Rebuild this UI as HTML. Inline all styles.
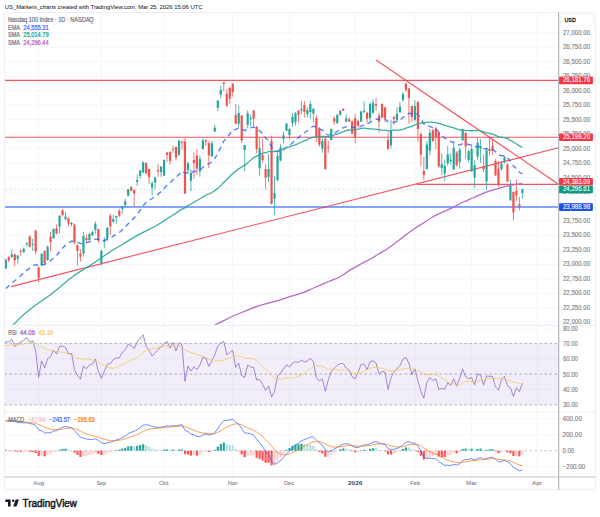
<!DOCTYPE html>
<html><head><meta charset="utf-8"><style>
html,body{margin:0;padding:0;background:#fff;width:600px;height:517px;overflow:hidden}
svg{display:block}
</style></head><body>
<svg width="600" height="517" viewBox="0 0 600 517">
<line x1="4.5" y1="322.2" x2="558.5" y2="322.2" stroke="#f5f6fb" stroke-width="1"/>
<line x1="4.5" y1="307.8" x2="558.5" y2="307.8" stroke="#f5f6fb" stroke-width="1"/>
<line x1="4.5" y1="293.3" x2="558.5" y2="293.3" stroke="#f5f6fb" stroke-width="1"/>
<line x1="4.5" y1="278.8" x2="558.5" y2="278.8" stroke="#f5f6fb" stroke-width="1"/>
<line x1="4.5" y1="264.4" x2="558.5" y2="264.4" stroke="#f5f6fb" stroke-width="1"/>
<line x1="4.5" y1="249.9" x2="558.5" y2="249.9" stroke="#f5f6fb" stroke-width="1"/>
<line x1="4.5" y1="235.4" x2="558.5" y2="235.4" stroke="#f5f6fb" stroke-width="1"/>
<line x1="4.5" y1="220.9" x2="558.5" y2="220.9" stroke="#f5f6fb" stroke-width="1"/>
<line x1="4.5" y1="206.4" x2="558.5" y2="206.4" stroke="#f5f6fb" stroke-width="1"/>
<line x1="4.5" y1="192.0" x2="558.5" y2="192.0" stroke="#f5f6fb" stroke-width="1"/>
<line x1="4.5" y1="177.5" x2="558.5" y2="177.5" stroke="#f5f6fb" stroke-width="1"/>
<line x1="4.5" y1="163.0" x2="558.5" y2="163.0" stroke="#f5f6fb" stroke-width="1"/>
<line x1="4.5" y1="148.6" x2="558.5" y2="148.6" stroke="#f5f6fb" stroke-width="1"/>
<line x1="4.5" y1="134.1" x2="558.5" y2="134.1" stroke="#f5f6fb" stroke-width="1"/>
<line x1="4.5" y1="119.6" x2="558.5" y2="119.6" stroke="#f5f6fb" stroke-width="1"/>
<line x1="4.5" y1="105.1" x2="558.5" y2="105.1" stroke="#f5f6fb" stroke-width="1"/>
<line x1="4.5" y1="90.7" x2="558.5" y2="90.7" stroke="#f5f6fb" stroke-width="1"/>
<line x1="4.5" y1="76.2" x2="558.5" y2="76.2" stroke="#f5f6fb" stroke-width="1"/>
<line x1="4.5" y1="61.7" x2="558.5" y2="61.7" stroke="#f5f6fb" stroke-width="1"/>
<line x1="4.5" y1="47.2" x2="558.5" y2="47.2" stroke="#f5f6fb" stroke-width="1"/>
<line x1="4.5" y1="32.8" x2="558.5" y2="32.8" stroke="#f5f6fb" stroke-width="1"/>
<line x1="4.5" y1="328.0" x2="558.5" y2="328.0" stroke="#f5f6fb" stroke-width="1"/>
<line x1="4.5" y1="358.8" x2="558.5" y2="358.8" stroke="#f5f6fb" stroke-width="1"/>
<line x1="4.5" y1="389.5" x2="558.5" y2="389.5" stroke="#f5f6fb" stroke-width="1"/>
<line x1="4.5" y1="418.9" x2="558.5" y2="418.9" stroke="#f5f6fb" stroke-width="1"/>
<line x1="4.5" y1="434.8" x2="558.5" y2="434.8" stroke="#f5f6fb" stroke-width="1"/>
<line x1="4.5" y1="466.6" x2="558.5" y2="466.6" stroke="#f5f6fb" stroke-width="1"/>
<line x1="38.6" y1="12.5" x2="38.6" y2="477" stroke="#f5f6fb" stroke-width="1"/>
<line x1="101.4" y1="12.5" x2="101.4" y2="477" stroke="#f5f6fb" stroke-width="1"/>
<line x1="164.1" y1="12.5" x2="164.1" y2="477" stroke="#f5f6fb" stroke-width="1"/>
<line x1="232.7" y1="12.5" x2="232.7" y2="477" stroke="#f5f6fb" stroke-width="1"/>
<line x1="289.5" y1="12.5" x2="289.5" y2="477" stroke="#f5f6fb" stroke-width="1"/>
<line x1="355.2" y1="12.5" x2="355.2" y2="477" stroke="#f5f6fb" stroke-width="1"/>
<line x1="414.9" y1="12.5" x2="414.9" y2="477" stroke="#f5f6fb" stroke-width="1"/>
<line x1="471.6" y1="12.5" x2="471.6" y2="477" stroke="#f5f6fb" stroke-width="1"/>
<line x1="537.3" y1="12.5" x2="537.3" y2="477" stroke="#f5f6fb" stroke-width="1"/>
<clipPath id="cm"><rect x="4.5" y="12.5" width="554" height="312.5"/></clipPath>
<clipPath id="cr"><rect x="4.5" y="325.5" width="554" height="87"/></clipPath>
<clipPath id="cd"><rect x="4.5" y="412.5" width="554" height="64.5"/></clipPath>
<g clip-path="url(#cm)">
<line x1="4.5" y1="80.35" x2="558.5" y2="80.35" stroke="#f23645" stroke-width="1.15" opacity="0.85"/>
<line x1="4.5" y1="137.2" x2="558.5" y2="137.2" stroke="#f23645" stroke-width="1.15" opacity="0.85"/>
<line x1="416.7" y1="184.3" x2="558.5" y2="184.3" stroke="#f23645" stroke-width="1.15" opacity="0.85"/>
<line x1="4.5" y1="207.1" x2="558.5" y2="207.1" stroke="#2962ff" stroke-width="1.5" opacity="0.75"/>
<line x1="4.5" y1="189.3" x2="558.5" y2="189.3" stroke="#26a69a" stroke-width="0.8" stroke-dasharray="2.5,2" opacity="0.3"/>
<line x1="11" y1="286.6" x2="558.5" y2="147.8" stroke="#f23645" stroke-width="1.15" opacity="0.85"/>
<line x1="376" y1="59.9" x2="558.5" y2="184.3" stroke="#f23645" stroke-width="1.15" opacity="0.85"/>
<line x1="5.80" y1="258.6" x2="5.80" y2="269.2" stroke="#26a69a" stroke-width="0.8"/>
<rect x="4.70" y="259.7" width="2.2" height="8.80" fill="#26a69a"/>
<line x1="8.79" y1="256.3" x2="8.79" y2="262.4" stroke="#ef5350" stroke-width="0.8"/>
<rect x="7.69" y="257.0" width="2.2" height="3.40" fill="#ef5350"/>
<line x1="11.78" y1="249.5" x2="11.78" y2="257.6" stroke="#26a69a" stroke-width="0.8"/>
<rect x="10.68" y="254.3" width="2.2" height="2.70" fill="#26a69a"/>
<line x1="14.76" y1="253.6" x2="14.76" y2="266.4" stroke="#ef5350" stroke-width="0.8"/>
<rect x="13.66" y="254.3" width="2.2" height="6.10" fill="#ef5350"/>
<line x1="17.75" y1="254.9" x2="17.75" y2="263.7" stroke="#26a69a" stroke-width="0.8"/>
<rect x="16.65" y="255.6" width="2.2" height="3.00" fill="#26a69a"/>
<line x1="20.73" y1="249.5" x2="20.73" y2="255.6" stroke="#ef5350" stroke-width="0.8"/>
<rect x="19.63" y="250.9" width="2.2" height="0.90" fill="#ef5350"/>
<line x1="23.72" y1="247.5" x2="23.72" y2="252.9" stroke="#26a69a" stroke-width="0.8"/>
<rect x="22.62" y="248.8" width="2.2" height="3.40" fill="#26a69a"/>
<line x1="26.71" y1="242.0" x2="26.71" y2="246.8" stroke="#26a69a" stroke-width="0.8"/>
<rect x="25.61" y="243.4" width="2.2" height="1.10" fill="#26a69a"/>
<line x1="29.69" y1="235.0" x2="29.69" y2="247.5" stroke="#ef5350" stroke-width="0.8"/>
<rect x="28.59" y="236.7" width="2.2" height="10.10" fill="#ef5350"/>
<line x1="32.68" y1="238.7" x2="32.68" y2="250.9" stroke="#26a69a" stroke-width="0.8"/>
<rect x="31.58" y="244.1" width="2.2" height="0.80" fill="#26a69a"/>
<line x1="35.66" y1="229.8" x2="35.66" y2="254.5" stroke="#ef5350" stroke-width="0.8"/>
<rect x="34.56" y="230.5" width="2.2" height="20.90" fill="#ef5350"/>
<line x1="38.65" y1="266.1" x2="38.65" y2="282.4" stroke="#ef5350" stroke-width="0.8"/>
<rect x="37.55" y="267.7" width="2.2" height="10.10" fill="#ef5350"/>
<line x1="41.64" y1="253.0" x2="41.64" y2="266.0" stroke="#26a69a" stroke-width="0.8"/>
<rect x="40.54" y="253.8" width="2.2" height="11.60" fill="#26a69a"/>
<line x1="44.62" y1="250.0" x2="44.62" y2="263.8" stroke="#ef5350" stroke-width="0.8"/>
<rect x="43.52" y="251.1" width="2.2" height="11.90" fill="#ef5350"/>
<line x1="47.61" y1="245.6" x2="47.61" y2="260.7" stroke="#26a69a" stroke-width="0.8"/>
<rect x="46.51" y="246.5" width="2.2" height="13.50" fill="#26a69a"/>
<line x1="50.59" y1="232.0" x2="50.59" y2="251.4" stroke="#ef5350" stroke-width="0.8"/>
<rect x="49.49" y="236.7" width="2.2" height="5.50" fill="#ef5350"/>
<line x1="53.58" y1="228.5" x2="53.58" y2="238.8" stroke="#26a69a" stroke-width="0.8"/>
<rect x="52.48" y="229.0" width="2.2" height="9.30" fill="#26a69a"/>
<line x1="56.57" y1="224.4" x2="56.57" y2="234.4" stroke="#ef5350" stroke-width="0.8"/>
<rect x="55.47" y="228.2" width="2.2" height="5.40" fill="#ef5350"/>
<line x1="59.55" y1="215.0" x2="59.55" y2="233.6" stroke="#26a69a" stroke-width="0.8"/>
<rect x="58.45" y="215.8" width="2.2" height="10.90" fill="#26a69a"/>
<line x1="62.54" y1="208.9" x2="62.54" y2="216.6" stroke="#ef5350" stroke-width="0.8"/>
<rect x="61.44" y="210.4" width="2.2" height="4.60" fill="#ef5350"/>
<line x1="65.52" y1="212.0" x2="65.52" y2="220.5" stroke="#26a69a" stroke-width="0.8"/>
<rect x="64.42" y="216.6" width="2.2" height="2.60" fill="#26a69a"/>
<line x1="68.51" y1="217.4" x2="68.51" y2="226.7" stroke="#ef5350" stroke-width="0.8"/>
<rect x="67.41" y="218.2" width="2.2" height="5.40" fill="#ef5350"/>
<line x1="71.50" y1="222.0" x2="71.50" y2="226.3" stroke="#26a69a" stroke-width="0.8"/>
<rect x="70.40" y="222.8" width="2.2" height="1.50" fill="#26a69a"/>
<line x1="74.48" y1="223.8" x2="74.48" y2="244.3" stroke="#ef5350" stroke-width="0.8"/>
<rect x="73.38" y="224.6" width="2.2" height="18.10" fill="#ef5350"/>
<line x1="77.47" y1="244.3" x2="77.47" y2="265.7" stroke="#ef5350" stroke-width="0.8"/>
<rect x="76.37" y="245.2" width="2.2" height="5.80" fill="#ef5350"/>
<line x1="80.45" y1="249.3" x2="80.45" y2="261.6" stroke="#ef5350" stroke-width="0.8"/>
<rect x="79.35" y="253.4" width="2.2" height="3.30" fill="#ef5350"/>
<line x1="83.44" y1="232.0" x2="83.44" y2="256.7" stroke="#26a69a" stroke-width="0.8"/>
<rect x="82.34" y="236.0" width="2.2" height="17.40" fill="#26a69a"/>
<line x1="86.43" y1="234.5" x2="86.43" y2="242.7" stroke="#ef5350" stroke-width="0.8"/>
<rect x="85.33" y="238.0" width="2.2" height="2.00" fill="#ef5350"/>
<line x1="89.41" y1="232.8" x2="89.41" y2="241.0" stroke="#26a69a" stroke-width="0.8"/>
<rect x="88.31" y="234.0" width="2.2" height="6.00" fill="#26a69a"/>
<line x1="92.40" y1="231.0" x2="92.40" y2="236.0" stroke="#26a69a" stroke-width="0.8"/>
<rect x="91.30" y="232.0" width="2.2" height="3.30" fill="#26a69a"/>
<line x1="95.38" y1="221.7" x2="95.38" y2="233.8" stroke="#26a69a" stroke-width="0.8"/>
<rect x="94.28" y="223.7" width="2.2" height="6.10" fill="#26a69a"/>
<line x1="98.37" y1="228.7" x2="98.37" y2="243.3" stroke="#ef5350" stroke-width="0.8"/>
<rect x="97.27" y="229.0" width="2.2" height="11.60" fill="#ef5350"/>
<line x1="101.36" y1="249.4" x2="101.36" y2="265.7" stroke="#26a69a" stroke-width="0.8"/>
<rect x="100.26" y="251.0" width="2.2" height="12.30" fill="#26a69a"/>
<line x1="104.34" y1="237.2" x2="104.34" y2="248.0" stroke="#26a69a" stroke-width="0.8"/>
<rect x="103.24" y="240.0" width="2.2" height="2.00" fill="#26a69a"/>
<line x1="107.33" y1="227.0" x2="107.33" y2="241.0" stroke="#26a69a" stroke-width="0.8"/>
<rect x="106.23" y="227.8" width="2.2" height="10.80" fill="#26a69a"/>
<line x1="110.31" y1="214.0" x2="110.31" y2="235.2" stroke="#ef5350" stroke-width="0.8"/>
<rect x="109.21" y="215.6" width="2.2" height="10.80" fill="#ef5350"/>
<line x1="113.30" y1="215.0" x2="113.30" y2="223.0" stroke="#26a69a" stroke-width="0.8"/>
<rect x="112.20" y="219.0" width="2.2" height="2.70" fill="#26a69a"/>
<line x1="116.29" y1="215.6" x2="116.29" y2="223.7" stroke="#26a69a" stroke-width="0.8"/>
<rect x="115.19" y="216.0" width="2.2" height="1.60" fill="#26a69a"/>
<line x1="119.27" y1="208.8" x2="119.27" y2="217.0" stroke="#ef5350" stroke-width="0.8"/>
<rect x="118.17" y="210.8" width="2.2" height="4.80" fill="#ef5350"/>
<line x1="122.26" y1="206.0" x2="122.26" y2="213.5" stroke="#26a69a" stroke-width="0.8"/>
<rect x="121.16" y="206.3" width="2.2" height="2.70" fill="#26a69a"/>
<line x1="125.24" y1="199.0" x2="125.24" y2="207.0" stroke="#26a69a" stroke-width="0.8"/>
<rect x="124.14" y="201.2" width="2.2" height="3.80" fill="#26a69a"/>
<line x1="128.23" y1="188.7" x2="128.23" y2="196.2" stroke="#26a69a" stroke-width="0.8"/>
<rect x="127.13" y="189.4" width="2.2" height="6.40" fill="#26a69a"/>
<line x1="131.22" y1="186.0" x2="131.22" y2="191.4" stroke="#ef5350" stroke-width="0.8"/>
<rect x="130.12" y="187.1" width="2.2" height="3.70" fill="#ef5350"/>
<line x1="134.20" y1="189.5" x2="134.20" y2="206.3" stroke="#ef5350" stroke-width="0.8"/>
<rect x="133.10" y="190.0" width="2.2" height="3.50" fill="#ef5350"/>
<line x1="137.19" y1="174.5" x2="137.19" y2="186.0" stroke="#26a69a" stroke-width="0.8"/>
<rect x="136.09" y="180.0" width="2.2" height="2.00" fill="#26a69a"/>
<line x1="140.17" y1="169.8" x2="140.17" y2="178.6" stroke="#26a69a" stroke-width="0.8"/>
<rect x="139.07" y="170.5" width="2.2" height="5.40" fill="#26a69a"/>
<line x1="143.16" y1="161.4" x2="143.16" y2="173.2" stroke="#26a69a" stroke-width="0.8"/>
<rect x="142.06" y="162.3" width="2.2" height="10.20" fill="#26a69a"/>
<line x1="146.15" y1="162.3" x2="146.15" y2="174.5" stroke="#ef5350" stroke-width="0.8"/>
<rect x="145.05" y="163.0" width="2.2" height="10.20" fill="#ef5350"/>
<line x1="149.13" y1="168.5" x2="149.13" y2="184.0" stroke="#ef5350" stroke-width="0.8"/>
<rect x="148.03" y="169.0" width="2.2" height="8.20" fill="#ef5350"/>
<line x1="152.12" y1="180.6" x2="152.12" y2="195.5" stroke="#26a69a" stroke-width="0.8"/>
<rect x="151.02" y="183.3" width="2.2" height="4.40" fill="#26a69a"/>
<line x1="155.10" y1="176.6" x2="155.10" y2="189.4" stroke="#26a69a" stroke-width="0.8"/>
<rect x="154.00" y="177.6" width="2.2" height="5.00" fill="#26a69a"/>
<line x1="158.09" y1="163.7" x2="158.09" y2="176.6" stroke="#ef5350" stroke-width="0.8"/>
<rect x="156.99" y="170.0" width="2.2" height="1.40" fill="#ef5350"/>
<line x1="161.08" y1="166.0" x2="161.08" y2="176.9" stroke="#26a69a" stroke-width="0.8"/>
<rect x="159.98" y="166.7" width="2.2" height="5.40" fill="#26a69a"/>
<line x1="164.06" y1="159.5" x2="164.06" y2="176.0" stroke="#26a69a" stroke-width="0.8"/>
<rect x="162.96" y="160.0" width="2.2" height="15.50" fill="#26a69a"/>
<line x1="167.05" y1="151.8" x2="167.05" y2="162.0" stroke="#ef5350" stroke-width="0.8"/>
<rect x="165.95" y="152.5" width="2.2" height="2.50" fill="#ef5350"/>
<line x1="170.03" y1="151.1" x2="170.03" y2="164.7" stroke="#ef5350" stroke-width="0.8"/>
<rect x="168.93" y="152.0" width="2.2" height="8.90" fill="#ef5350"/>
<line x1="173.02" y1="145.7" x2="173.02" y2="153.2" stroke="#ef5350" stroke-width="0.8"/>
<rect x="171.92" y="148.7" width="2.2" height="0.80" fill="#ef5350"/>
<line x1="176.01" y1="146.4" x2="176.01" y2="160.6" stroke="#ef5350" stroke-width="0.8"/>
<rect x="174.91" y="147.0" width="2.2" height="10.60" fill="#ef5350"/>
<line x1="178.99" y1="140.3" x2="178.99" y2="155.5" stroke="#26a69a" stroke-width="0.8"/>
<rect x="177.89" y="140.6" width="2.2" height="14.30" fill="#26a69a"/>
<line x1="181.98" y1="141.0" x2="181.98" y2="149.8" stroke="#ef5350" stroke-width="0.8"/>
<rect x="180.88" y="141.4" width="2.2" height="1.30" fill="#ef5350"/>
<line x1="184.96" y1="138.1" x2="184.96" y2="194.0" stroke="#ef5350" stroke-width="0.8"/>
<rect x="183.86" y="141.5" width="2.2" height="52.10" fill="#ef5350"/>
<line x1="187.95" y1="161.8" x2="187.95" y2="174.0" stroke="#26a69a" stroke-width="0.8"/>
<rect x="186.85" y="163.2" width="2.2" height="6.80" fill="#26a69a"/>
<line x1="190.94" y1="169.3" x2="190.94" y2="191.0" stroke="#26a69a" stroke-width="0.8"/>
<rect x="189.84" y="173.0" width="2.2" height="7.80" fill="#26a69a"/>
<line x1="193.92" y1="152.3" x2="193.92" y2="178.7" stroke="#ef5350" stroke-width="0.8"/>
<rect x="192.82" y="160.0" width="2.2" height="3.20" fill="#ef5350"/>
<line x1="196.91" y1="149.0" x2="196.91" y2="174.7" stroke="#ef5350" stroke-width="0.8"/>
<rect x="195.81" y="155.5" width="2.2" height="13.10" fill="#ef5350"/>
<line x1="199.89" y1="155.7" x2="199.89" y2="176.7" stroke="#26a69a" stroke-width="0.8"/>
<rect x="198.79" y="159.0" width="2.2" height="12.30" fill="#26a69a"/>
<line x1="202.88" y1="137.9" x2="202.88" y2="149.6" stroke="#26a69a" stroke-width="0.8"/>
<rect x="201.78" y="140.5" width="2.2" height="8.50" fill="#26a69a"/>
<line x1="205.87" y1="139.0" x2="205.87" y2="145.9" stroke="#ef5350" stroke-width="0.8"/>
<rect x="204.77" y="140.3" width="2.2" height="1.30" fill="#ef5350"/>
<line x1="208.85" y1="141.0" x2="208.85" y2="168.2" stroke="#ef5350" stroke-width="0.8"/>
<rect x="207.75" y="143.2" width="2.2" height="12.20" fill="#ef5350"/>
<line x1="211.84" y1="141.0" x2="211.84" y2="157.0" stroke="#26a69a" stroke-width="0.8"/>
<rect x="210.74" y="143.2" width="2.2" height="13.30" fill="#26a69a"/>
<line x1="214.82" y1="124.6" x2="214.82" y2="132.0" stroke="#26a69a" stroke-width="0.8"/>
<rect x="213.72" y="127.8" width="2.2" height="3.70" fill="#26a69a"/>
<line x1="217.81" y1="100.0" x2="217.81" y2="110.9" stroke="#26a69a" stroke-width="0.8"/>
<rect x="216.71" y="100.7" width="2.2" height="7.10" fill="#26a69a"/>
<line x1="220.80" y1="85.8" x2="220.80" y2="98.0" stroke="#26a69a" stroke-width="0.8"/>
<rect x="219.70" y="89.9" width="2.2" height="4.70" fill="#26a69a"/>
<line x1="223.78" y1="81.8" x2="223.78" y2="91.2" stroke="#ef5350" stroke-width="0.8"/>
<rect x="222.68" y="82.4" width="2.2" height="1.40" fill="#ef5350"/>
<line x1="226.77" y1="89.2" x2="226.77" y2="106.8" stroke="#ef5350" stroke-width="0.8"/>
<rect x="225.67" y="94.0" width="2.2" height="11.90" fill="#ef5350"/>
<line x1="229.75" y1="86.5" x2="229.75" y2="104.1" stroke="#ef5350" stroke-width="0.8"/>
<rect x="228.65" y="87.9" width="2.2" height="10.80" fill="#ef5350"/>
<line x1="232.74" y1="83.1" x2="232.74" y2="96.7" stroke="#ef5350" stroke-width="0.8"/>
<rect x="231.64" y="83.8" width="2.2" height="8.10" fill="#ef5350"/>
<line x1="235.73" y1="104.0" x2="235.73" y2="124.4" stroke="#ef5350" stroke-width="0.8"/>
<rect x="234.63" y="115.0" width="2.2" height="8.70" fill="#ef5350"/>
<line x1="238.71" y1="105.5" x2="238.71" y2="127.1" stroke="#26a69a" stroke-width="0.8"/>
<rect x="237.61" y="112.9" width="2.2" height="10.80" fill="#26a69a"/>
<line x1="241.70" y1="115.0" x2="241.70" y2="143.5" stroke="#ef5350" stroke-width="0.8"/>
<rect x="240.60" y="115.6" width="2.2" height="24.90" fill="#ef5350"/>
<line x1="244.68" y1="145.0" x2="244.68" y2="171.3" stroke="#26a69a" stroke-width="0.8"/>
<rect x="243.58" y="145.0" width="2.2" height="5.00" fill="#26a69a"/>
<line x1="247.67" y1="110.6" x2="247.67" y2="128.2" stroke="#26a69a" stroke-width="0.8"/>
<rect x="246.57" y="113.3" width="2.2" height="11.50" fill="#26a69a"/>
<line x1="250.66" y1="114.6" x2="250.66" y2="126.1" stroke="#26a69a" stroke-width="0.8"/>
<rect x="249.56" y="118.3" width="2.2" height="1.10" fill="#26a69a"/>
<line x1="253.64" y1="109.9" x2="253.64" y2="126.0" stroke="#ef5350" stroke-width="0.8"/>
<rect x="252.54" y="110.6" width="2.2" height="8.10" fill="#ef5350"/>
<line x1="256.63" y1="126.1" x2="256.63" y2="153.5" stroke="#ef5350" stroke-width="0.8"/>
<rect x="255.53" y="126.8" width="2.2" height="22.20" fill="#ef5350"/>
<line x1="259.61" y1="137.6" x2="259.61" y2="175.6" stroke="#26a69a" stroke-width="0.8"/>
<rect x="258.51" y="148.2" width="2.2" height="20.10" fill="#26a69a"/>
<line x1="262.60" y1="139.0" x2="262.60" y2="162.5" stroke="#ef5350" stroke-width="0.8"/>
<rect x="261.50" y="155.0" width="2.2" height="5.20" fill="#ef5350"/>
<line x1="265.59" y1="164.0" x2="265.59" y2="189.3" stroke="#ef5350" stroke-width="0.8"/>
<rect x="264.49" y="169.0" width="2.2" height="8.70" fill="#ef5350"/>
<line x1="268.57" y1="153.8" x2="268.57" y2="182.0" stroke="#26a69a" stroke-width="0.8"/>
<rect x="267.47" y="169.0" width="2.2" height="8.00" fill="#26a69a"/>
<line x1="271.56" y1="135.6" x2="271.56" y2="204.6" stroke="#ef5350" stroke-width="0.8"/>
<rect x="270.46" y="140.7" width="2.2" height="63.20" fill="#ef5350"/>
<line x1="274.54" y1="176.3" x2="274.54" y2="215.0" stroke="#26a69a" stroke-width="0.8"/>
<rect x="273.44" y="193.0" width="2.2" height="5.80" fill="#26a69a"/>
<line x1="277.53" y1="153.0" x2="277.53" y2="181.4" stroke="#26a69a" stroke-width="0.8"/>
<rect x="276.43" y="156.0" width="2.2" height="24.00" fill="#26a69a"/>
<line x1="280.52" y1="144.4" x2="280.52" y2="161.3" stroke="#26a69a" stroke-width="0.8"/>
<rect x="279.42" y="147.2" width="2.2" height="13.30" fill="#26a69a"/>
<line x1="283.50" y1="131.5" x2="283.50" y2="143.5" stroke="#26a69a" stroke-width="0.8"/>
<rect x="282.40" y="135.3" width="2.2" height="3.70" fill="#26a69a"/>
<line x1="286.49" y1="122.9" x2="286.49" y2="131.0" stroke="#26a69a" stroke-width="0.8"/>
<rect x="285.39" y="123.5" width="2.2" height="7.20" fill="#26a69a"/>
<line x1="289.47" y1="128.3" x2="289.47" y2="139.2" stroke="#26a69a" stroke-width="0.8"/>
<rect x="288.37" y="129.0" width="2.2" height="6.10" fill="#26a69a"/>
<line x1="292.46" y1="112.8" x2="292.46" y2="127.0" stroke="#26a69a" stroke-width="0.8"/>
<rect x="291.36" y="116.8" width="2.2" height="6.10" fill="#26a69a"/>
<line x1="295.45" y1="112.0" x2="295.45" y2="125.6" stroke="#26a69a" stroke-width="0.8"/>
<rect x="294.35" y="113.4" width="2.2" height="8.80" fill="#26a69a"/>
<line x1="298.43" y1="110.0" x2="298.43" y2="122.2" stroke="#ef5350" stroke-width="0.8"/>
<rect x="297.33" y="110.7" width="2.2" height="4.10" fill="#ef5350"/>
<line x1="301.42" y1="101.2" x2="301.42" y2="114.1" stroke="#26a69a" stroke-width="0.8"/>
<rect x="300.32" y="109.1" width="2.2" height="1.40" fill="#26a69a"/>
<line x1="304.40" y1="101.2" x2="304.40" y2="117.5" stroke="#ef5350" stroke-width="0.8"/>
<rect x="303.30" y="105.0" width="2.2" height="7.00" fill="#ef5350"/>
<line x1="307.39" y1="107.3" x2="307.39" y2="117.5" stroke="#26a69a" stroke-width="0.8"/>
<rect x="306.29" y="110.0" width="2.2" height="4.10" fill="#26a69a"/>
<line x1="310.38" y1="100.6" x2="310.38" y2="118.8" stroke="#26a69a" stroke-width="0.8"/>
<rect x="309.28" y="104.0" width="2.2" height="8.00" fill="#26a69a"/>
<line x1="313.36" y1="108.0" x2="313.36" y2="122.2" stroke="#26a69a" stroke-width="0.8"/>
<rect x="312.26" y="109.0" width="2.2" height="4.60" fill="#26a69a"/>
<line x1="316.35" y1="115.0" x2="316.35" y2="142.0" stroke="#ef5350" stroke-width="0.8"/>
<rect x="315.25" y="117.9" width="2.2" height="19.20" fill="#ef5350"/>
<line x1="319.33" y1="127.0" x2="319.33" y2="146.6" stroke="#ef5350" stroke-width="0.8"/>
<rect x="318.23" y="128.3" width="2.2" height="16.30" fill="#ef5350"/>
<line x1="322.32" y1="138.2" x2="322.32" y2="152.7" stroke="#26a69a" stroke-width="0.8"/>
<rect x="321.22" y="140.9" width="2.2" height="7.70" fill="#26a69a"/>
<line x1="325.31" y1="137.9" x2="325.31" y2="169.7" stroke="#ef5350" stroke-width="0.8"/>
<rect x="324.21" y="138.8" width="2.2" height="30.20" fill="#ef5350"/>
<line x1="328.29" y1="140.6" x2="328.29" y2="152.8" stroke="#ef5350" stroke-width="0.8"/>
<rect x="327.19" y="146.7" width="2.2" height="1.00" fill="#ef5350"/>
<line x1="331.28" y1="128.4" x2="331.28" y2="140.6" stroke="#26a69a" stroke-width="0.8"/>
<rect x="330.18" y="129.1" width="2.2" height="10.90" fill="#26a69a"/>
<line x1="334.26" y1="116.2" x2="334.26" y2="125.0" stroke="#ef5350" stroke-width="0.8"/>
<rect x="333.16" y="118.3" width="2.2" height="3.40" fill="#ef5350"/>
<line x1="337.25" y1="113.5" x2="337.25" y2="124.4" stroke="#26a69a" stroke-width="0.8"/>
<rect x="336.15" y="114.9" width="2.2" height="8.10" fill="#26a69a"/>
<line x1="340.24" y1="110.2" x2="340.24" y2="115.6" stroke="#26a69a" stroke-width="0.8"/>
<rect x="339.14" y="110.8" width="2.2" height="4.10" fill="#26a69a"/>
<line x1="343.22" y1="108.5" x2="343.22" y2="111.0" stroke="#ef5350" stroke-width="0.8"/>
<rect x="342.12" y="108.8" width="2.2" height="2.00" fill="#ef5350"/>
<line x1="346.21" y1="114.2" x2="346.21" y2="122.3" stroke="#26a69a" stroke-width="0.8"/>
<rect x="345.11" y="118.3" width="2.2" height="3.40" fill="#26a69a"/>
<line x1="349.19" y1="117.0" x2="349.19" y2="122.0" stroke="#ef5350" stroke-width="0.8"/>
<rect x="348.09" y="119.2" width="2.2" height="2.40" fill="#ef5350"/>
<line x1="352.18" y1="120.2" x2="352.18" y2="134.4" stroke="#ef5350" stroke-width="0.8"/>
<rect x="351.08" y="121.6" width="2.2" height="11.90" fill="#ef5350"/>
<line x1="355.17" y1="114.1" x2="355.17" y2="143.2" stroke="#ef5350" stroke-width="0.8"/>
<rect x="354.07" y="118.2" width="2.2" height="18.90" fill="#ef5350"/>
<line x1="358.15" y1="119.5" x2="358.15" y2="127.6" stroke="#ef5350" stroke-width="0.8"/>
<rect x="357.05" y="120.9" width="2.2" height="4.70" fill="#ef5350"/>
<line x1="361.14" y1="110.7" x2="361.14" y2="122.2" stroke="#26a69a" stroke-width="0.8"/>
<rect x="360.04" y="111.4" width="2.2" height="10.20" fill="#26a69a"/>
<line x1="364.12" y1="101.2" x2="364.12" y2="113.4" stroke="#26a69a" stroke-width="0.8"/>
<rect x="363.02" y="110.7" width="2.2" height="1.30" fill="#26a69a"/>
<line x1="367.11" y1="112.0" x2="367.11" y2="123.6" stroke="#ef5350" stroke-width="0.8"/>
<rect x="366.01" y="112.8" width="2.2" height="6.00" fill="#ef5350"/>
<line x1="370.10" y1="102.0" x2="370.10" y2="121.6" stroke="#26a69a" stroke-width="0.8"/>
<rect x="369.00" y="104.0" width="2.2" height="14.20" fill="#26a69a"/>
<line x1="373.08" y1="99.2" x2="373.08" y2="113.4" stroke="#26a69a" stroke-width="0.8"/>
<rect x="371.98" y="102.6" width="2.2" height="10.20" fill="#26a69a"/>
<line x1="376.07" y1="97.9" x2="376.07" y2="110.7" stroke="#ef5350" stroke-width="0.8"/>
<rect x="374.97" y="104.0" width="2.2" height="1.60" fill="#ef5350"/>
<line x1="379.05" y1="112.8" x2="379.05" y2="132.4" stroke="#ef5350" stroke-width="0.8"/>
<rect x="377.95" y="115.5" width="2.2" height="6.10" fill="#ef5350"/>
<line x1="382.04" y1="103.3" x2="382.04" y2="118.2" stroke="#ef5350" stroke-width="0.8"/>
<rect x="380.94" y="104.0" width="2.2" height="13.50" fill="#ef5350"/>
<line x1="385.03" y1="106.7" x2="385.03" y2="122.2" stroke="#ef5350" stroke-width="0.8"/>
<rect x="383.93" y="107.3" width="2.2" height="10.90" fill="#ef5350"/>
<line x1="388.01" y1="132.4" x2="388.01" y2="150.0" stroke="#ef5350" stroke-width="0.8"/>
<rect x="386.91" y="139.8" width="2.2" height="8.80" fill="#ef5350"/>
<line x1="391.00" y1="119.9" x2="391.00" y2="148.6" stroke="#26a69a" stroke-width="0.8"/>
<rect x="389.90" y="130.1" width="2.2" height="15.10" fill="#26a69a"/>
<line x1="393.98" y1="115.6" x2="393.98" y2="125.0" stroke="#ef5350" stroke-width="0.8"/>
<rect x="392.88" y="117.2" width="2.2" height="1.80" fill="#ef5350"/>
<line x1="396.97" y1="107.5" x2="396.97" y2="121.0" stroke="#26a69a" stroke-width="0.8"/>
<rect x="395.87" y="113.6" width="2.2" height="6.80" fill="#26a69a"/>
<line x1="399.96" y1="102.0" x2="399.96" y2="112.9" stroke="#26a69a" stroke-width="0.8"/>
<rect x="398.86" y="106.8" width="2.2" height="5.40" fill="#26a69a"/>
<line x1="402.94" y1="92.0" x2="402.94" y2="102.0" stroke="#26a69a" stroke-width="0.8"/>
<rect x="401.84" y="94.0" width="2.2" height="6.00" fill="#26a69a"/>
<line x1="405.93" y1="82.4" x2="405.93" y2="91.9" stroke="#ef5350" stroke-width="0.8"/>
<rect x="404.83" y="83.8" width="2.2" height="6.10" fill="#ef5350"/>
<line x1="408.91" y1="87.9" x2="408.91" y2="123.7" stroke="#ef5350" stroke-width="0.8"/>
<rect x="407.81" y="88.5" width="2.2" height="9.50" fill="#ef5350"/>
<line x1="411.90" y1="105.5" x2="411.90" y2="121.7" stroke="#ef5350" stroke-width="0.8"/>
<rect x="410.80" y="106.1" width="2.2" height="10.90" fill="#ef5350"/>
<line x1="414.89" y1="100.0" x2="414.89" y2="121.0" stroke="#26a69a" stroke-width="0.8"/>
<rect x="413.79" y="106.1" width="2.2" height="13.90" fill="#26a69a"/>
<line x1="417.87" y1="100.7" x2="417.87" y2="141.8" stroke="#ef5350" stroke-width="0.8"/>
<rect x="416.77" y="102.0" width="2.2" height="27.00" fill="#ef5350"/>
<line x1="420.86" y1="132.3" x2="420.86" y2="166.2" stroke="#ef5350" stroke-width="0.8"/>
<rect x="419.76" y="134.4" width="2.2" height="20.30" fill="#ef5350"/>
<line x1="423.84" y1="156.7" x2="423.84" y2="180.0" stroke="#ef5350" stroke-width="0.8"/>
<rect x="422.74" y="171.0" width="2.2" height="4.00" fill="#ef5350"/>
<line x1="426.83" y1="141.1" x2="426.83" y2="169.6" stroke="#26a69a" stroke-width="0.8"/>
<rect x="425.73" y="144.5" width="2.2" height="24.40" fill="#26a69a"/>
<line x1="429.82" y1="129.0" x2="429.82" y2="155.4" stroke="#26a69a" stroke-width="0.8"/>
<rect x="428.72" y="133.0" width="2.2" height="17.60" fill="#26a69a"/>
<line x1="432.80" y1="129.0" x2="432.80" y2="141.8" stroke="#ef5350" stroke-width="0.8"/>
<rect x="431.70" y="130.3" width="2.2" height="10.80" fill="#ef5350"/>
<line x1="435.79" y1="126.9" x2="435.79" y2="149.3" stroke="#ef5350" stroke-width="0.8"/>
<rect x="434.69" y="128.3" width="2.2" height="8.80" fill="#ef5350"/>
<line x1="438.77" y1="132.3" x2="438.77" y2="168.2" stroke="#ef5350" stroke-width="0.8"/>
<rect x="437.67" y="133.0" width="2.2" height="33.20" fill="#ef5350"/>
<line x1="441.76" y1="153.3" x2="441.76" y2="175.0" stroke="#26a69a" stroke-width="0.8"/>
<rect x="440.66" y="164.1" width="2.2" height="4.00" fill="#26a69a"/>
<line x1="444.75" y1="159.4" x2="444.75" y2="181.0" stroke="#26a69a" stroke-width="0.8"/>
<rect x="443.65" y="165.8" width="2.2" height="7.80" fill="#26a69a"/>
<line x1="447.73" y1="146.0" x2="447.73" y2="165.8" stroke="#26a69a" stroke-width="0.8"/>
<rect x="446.63" y="154.2" width="2.2" height="9.20" fill="#26a69a"/>
<line x1="450.72" y1="153.8" x2="450.72" y2="164.7" stroke="#26a69a" stroke-width="0.8"/>
<rect x="449.62" y="160.0" width="2.2" height="1.30" fill="#26a69a"/>
<line x1="453.70" y1="143.0" x2="453.70" y2="170.0" stroke="#26a69a" stroke-width="0.8"/>
<rect x="452.60" y="147.8" width="2.2" height="21.60" fill="#26a69a"/>
<line x1="456.69" y1="151.0" x2="456.69" y2="166.7" stroke="#ef5350" stroke-width="0.8"/>
<rect x="455.59" y="152.5" width="2.2" height="12.90" fill="#ef5350"/>
<line x1="459.68" y1="147.8" x2="459.68" y2="168.7" stroke="#26a69a" stroke-width="0.8"/>
<rect x="458.58" y="149.8" width="2.2" height="12.20" fill="#26a69a"/>
<line x1="462.66" y1="128.8" x2="462.66" y2="141.0" stroke="#26a69a" stroke-width="0.8"/>
<rect x="461.56" y="129.5" width="2.2" height="10.80" fill="#26a69a"/>
<line x1="465.65" y1="132.2" x2="465.65" y2="158.6" stroke="#ef5350" stroke-width="0.8"/>
<rect x="464.55" y="132.9" width="2.2" height="13.50" fill="#ef5350"/>
<line x1="468.63" y1="149.8" x2="468.63" y2="162.0" stroke="#26a69a" stroke-width="0.8"/>
<rect x="467.53" y="151.1" width="2.2" height="8.90" fill="#26a69a"/>
<line x1="471.62" y1="145.0" x2="471.62" y2="172.0" stroke="#26a69a" stroke-width="0.8"/>
<rect x="470.52" y="149.0" width="2.2" height="22.40" fill="#26a69a"/>
<line x1="474.61" y1="160.0" x2="474.61" y2="187.7" stroke="#26a69a" stroke-width="0.8"/>
<rect x="473.51" y="165.3" width="2.2" height="12.10" fill="#26a69a"/>
<line x1="477.59" y1="138.0" x2="477.59" y2="160.0" stroke="#26a69a" stroke-width="0.8"/>
<rect x="476.49" y="142.9" width="2.2" height="13.60" fill="#26a69a"/>
<line x1="480.58" y1="138.9" x2="480.58" y2="163.0" stroke="#26a69a" stroke-width="0.8"/>
<rect x="479.48" y="146.4" width="2.2" height="2.10" fill="#26a69a"/>
<line x1="483.56" y1="154.4" x2="483.56" y2="172.3" stroke="#ef5350" stroke-width="0.8"/>
<rect x="482.46" y="166.7" width="2.2" height="2.70" fill="#ef5350"/>
<line x1="486.55" y1="147.6" x2="486.55" y2="189.6" stroke="#26a69a" stroke-width="0.8"/>
<rect x="485.45" y="150.3" width="2.2" height="31.10" fill="#26a69a"/>
<line x1="489.54" y1="138.0" x2="489.54" y2="155.7" stroke="#ef5350" stroke-width="0.8"/>
<rect x="488.44" y="149.0" width="2.2" height="2.00" fill="#ef5350"/>
<line x1="492.52" y1="140.0" x2="492.52" y2="155.0" stroke="#ef5350" stroke-width="0.8"/>
<rect x="491.42" y="145.6" width="2.2" height="5.40" fill="#ef5350"/>
<line x1="495.51" y1="159.1" x2="495.51" y2="176.0" stroke="#ef5350" stroke-width="0.8"/>
<rect x="494.41" y="161.1" width="2.2" height="14.30" fill="#ef5350"/>
<line x1="498.49" y1="161.1" x2="498.49" y2="186.9" stroke="#ef5350" stroke-width="0.8"/>
<rect x="497.39" y="168.6" width="2.2" height="16.20" fill="#ef5350"/>
<line x1="501.48" y1="161.1" x2="501.48" y2="170.6" stroke="#26a69a" stroke-width="0.8"/>
<rect x="500.38" y="163.8" width="2.2" height="5.50" fill="#26a69a"/>
<line x1="504.47" y1="155.7" x2="504.47" y2="163.8" stroke="#26a69a" stroke-width="0.8"/>
<rect x="503.37" y="157.1" width="2.2" height="4.70" fill="#26a69a"/>
<line x1="507.45" y1="163.2" x2="507.45" y2="182.1" stroke="#ef5350" stroke-width="0.8"/>
<rect x="506.35" y="164.5" width="2.2" height="17.10" fill="#ef5350"/>
<line x1="510.44" y1="179.9" x2="510.44" y2="200.9" stroke="#26a69a" stroke-width="0.8"/>
<rect x="509.34" y="186.0" width="2.2" height="14.20" fill="#26a69a"/>
<line x1="513.42" y1="191.4" x2="513.42" y2="220.5" stroke="#ef5350" stroke-width="0.8"/>
<rect x="512.32" y="192.0" width="2.2" height="20.40" fill="#ef5350"/>
<line x1="516.41" y1="179.2" x2="516.41" y2="200.9" stroke="#ef5350" stroke-width="0.8"/>
<rect x="515.31" y="190.7" width="2.2" height="4.80" fill="#ef5350"/>
<line x1="519.40" y1="196.8" x2="519.40" y2="210.4" stroke="#ef5350" stroke-width="0.8"/>
<rect x="518.30" y="204.3" width="2.2" height="2.70" fill="#ef5350"/>
<line x1="522.38" y1="188.7" x2="522.38" y2="198.8" stroke="#26a69a" stroke-width="0.8"/>
<rect x="521.28" y="189.4" width="2.2" height="3.40" fill="#26a69a"/>
<polyline fill="none" stroke="#2962ff" stroke-width="1.4" stroke-dasharray="5,4" opacity="0.8" points="5.8,288.6 8.8,285.9 11.8,282.9 14.8,280.7 17.7,278.3 20.7,275.8 23.7,273.2 26.7,270.4 29.7,268.1 32.7,265.9 35.7,264.5 38.6,265.8 41.6,264.6 44.6,264.5 47.6,262.7 50.6,260.8 53.6,257.8 56.6,255.5 59.6,251.7 62.5,248.2 65.5,245.2 68.5,243.1 71.5,241.2 74.5,241.3 77.5,242.3 80.5,243.6 83.4,242.9 86.4,242.6 89.4,241.8 92.4,240.9 95.4,239.2 98.4,239.4 101.4,240.5 104.3,240.4 107.3,239.2 110.3,238.0 113.3,236.2 116.3,234.3 119.3,232.5 122.3,230.0 125.2,227.3 128.2,223.7 131.2,220.5 134.2,217.9 137.2,214.3 140.2,210.2 143.2,205.6 146.1,202.5 149.1,200.1 152.1,198.5 155.1,196.5 158.1,194.1 161.1,191.5 164.1,188.5 167.0,185.3 170.0,183.0 173.0,179.8 176.0,177.7 179.0,174.2 182.0,171.2 185.0,173.3 188.0,172.3 190.9,172.4 193.9,171.5 196.9,171.2 199.9,170.1 202.9,167.3 205.9,164.8 208.9,163.9 211.8,161.9 214.8,158.7 217.8,153.2 220.8,147.1 223.8,141.1 226.8,137.8 229.8,134.0 232.7,130.0 235.7,129.4 238.7,127.8 241.7,129.1 244.7,130.6 247.7,128.9 250.7,127.9 253.6,127.0 256.6,129.1 259.6,130.9 262.6,133.7 265.6,137.9 268.6,140.9 271.6,146.9 274.5,151.3 277.5,151.7 280.5,151.3 283.5,149.8 286.5,147.3 289.5,145.5 292.5,142.8 295.4,140.0 298.4,137.6 301.4,134.9 304.4,132.7 307.4,130.5 310.4,128.0 313.4,126.2 316.3,127.2 319.3,128.9 322.3,130.0 325.3,133.7 328.3,135.1 331.3,134.5 334.3,133.3 337.2,131.5 340.2,129.6 343.2,127.8 346.2,126.9 349.2,126.4 352.2,127.0 355.2,128.0 358.2,127.8 361.1,126.2 364.1,124.7 367.1,124.2 370.1,122.3 373.1,120.4 376.1,119.0 379.1,119.2 382.0,119.1 385.0,119.0 388.0,121.8 391.0,122.6 394.0,122.2 397.0,121.4 400.0,120.0 402.9,117.6 405.9,114.9 408.9,113.3 411.9,113.7 414.9,112.9 417.9,114.5 420.9,118.3 423.8,123.7 426.8,125.7 429.8,126.4 432.8,127.8 435.8,128.7 438.8,132.2 441.8,135.3 444.7,138.2 447.7,139.7 450.7,141.6 453.7,142.2 456.7,144.4 459.7,144.9 462.7,143.5 465.6,143.8 468.6,144.5 471.6,144.9 474.6,146.8 477.6,146.5 480.6,146.5 483.6,148.6 486.6,148.8 489.5,149.0 492.5,149.2 495.5,151.7 498.5,154.8 501.5,155.7 504.5,155.8 507.5,158.3 510.4,160.9 513.4,165.8 516.4,168.7 519.4,172.3 522.4,173.9"/>
<path fill="none" stroke="#26a69a" stroke-width="1.3" opacity="0.9" d="M10.50,327.50 C10.87,327.13 11.78,326.18 12.70,325.30 C13.62,324.42 14.35,323.82 16.00,322.20 C17.65,320.58 19.42,318.38 22.60,315.60 C25.78,312.82 30.92,308.65 35.10,305.50 C39.28,302.35 43.50,299.83 47.70,296.70 C51.90,293.57 56.12,290.05 60.30,286.70 C64.48,283.35 68.62,279.67 72.80,276.60 C76.98,273.53 81.22,271.02 85.40,268.30 C89.58,265.58 93.72,263.10 97.90,260.30 C102.08,257.50 106.30,254.22 110.50,251.50 C114.70,248.78 118.92,246.52 123.10,244.00 C127.28,241.48 130.27,239.35 135.60,236.40 C140.93,233.45 151.36,228.27 155.10,226.29 C158.85,224.31 157.09,225.10 158.09,224.51 C159.09,223.92 160.08,223.38 161.08,222.76 C162.07,222.13 163.07,221.42 164.06,220.75 C165.06,220.08 166.05,219.38 167.05,218.74 C168.04,218.10 169.04,217.55 170.03,216.92 C171.03,216.29 172.02,215.55 173.02,214.93 C174.02,214.32 175.01,213.86 176.01,213.22 C177.00,212.58 178.00,211.79 178.99,211.09 C179.99,210.40 180.98,209.60 181.98,209.07 C182.97,208.54 183.97,208.48 184.96,207.91 C185.96,207.34 186.95,206.27 187.95,205.62 C188.95,204.97 189.94,204.60 190.94,204.00 C191.93,203.40 192.93,202.60 193.92,202.01 C194.92,201.41 195.91,200.98 196.91,200.45 C197.90,199.91 198.90,199.36 199.89,198.78 C200.89,198.21 201.88,197.62 202.88,197.01 C203.88,196.41 204.87,195.68 205.87,195.17 C206.86,194.67 207.86,194.41 208.85,193.97 C209.85,193.53 210.84,193.07 211.84,192.53 C212.83,191.99 213.83,191.46 214.82,190.75 C215.82,190.05 216.81,189.15 217.81,188.30 C218.81,187.44 219.80,186.61 220.80,185.64 C221.79,184.67 222.79,183.47 223.78,182.46 C224.78,181.45 225.77,180.57 226.77,179.56 C227.76,178.55 228.76,177.41 229.75,176.40 C230.75,175.39 231.74,174.38 232.74,173.52 C233.74,172.65 234.73,171.98 235.73,171.19 C236.72,170.40 237.72,169.48 238.71,168.77 C239.71,168.06 240.70,167.51 241.70,166.94 C242.69,166.37 243.69,166.05 244.68,165.36 C245.68,164.68 246.67,163.68 247.67,162.82 C248.67,161.95 249.66,161.01 250.66,160.16 C251.65,159.32 252.65,158.41 253.64,157.74 C254.64,157.07 255.63,156.69 256.63,156.16 C257.62,155.64 258.62,155.05 259.61,154.60 C260.61,154.14 261.60,153.75 262.60,153.42 C263.60,153.10 264.59,152.94 265.59,152.66 C266.58,152.37 267.58,151.89 268.57,151.72 C269.57,151.56 270.56,151.71 271.56,151.68 C272.55,151.64 273.55,151.65 274.54,151.51 C275.54,151.37 276.53,151.10 277.53,150.84 C278.53,150.59 279.52,150.31 280.52,149.97 C281.51,149.63 282.51,149.19 283.50,148.81 C284.50,148.43 285.49,148.00 286.49,147.68 C287.48,147.35 288.48,147.14 289.47,146.85 C290.47,146.56 291.46,146.29 292.46,145.94 C293.46,145.59 294.45,145.15 295.45,144.74 C296.44,144.33 297.44,143.95 298.43,143.49 C299.43,143.04 300.42,142.48 301.42,142.01 C302.41,141.54 303.41,141.12 304.40,140.70 C305.40,140.27 306.39,139.88 307.39,139.47 C308.39,139.06 309.38,138.59 310.38,138.22 C311.37,137.84 312.37,137.43 313.36,137.20 C314.36,136.97 315.35,136.95 316.35,136.84 C317.34,136.72 318.34,136.59 319.33,136.51 C320.33,136.43 321.32,136.33 322.32,136.34 C323.32,136.35 324.31,136.51 325.31,136.57 C326.30,136.63 327.30,136.73 328.29,136.71 C329.29,136.69 330.28,136.72 331.28,136.44 C332.27,136.15 333.27,135.40 334.26,135.00 C335.26,134.60 336.25,134.40 337.25,134.03 C338.25,133.67 339.24,133.17 340.24,132.79 C341.23,132.41 342.23,132.08 343.22,131.74 C344.22,131.40 345.21,131.03 346.21,130.74 C347.20,130.44 348.20,130.14 349.19,129.99 C350.19,129.84 351.18,129.89 352.18,129.85 C353.18,129.81 354.17,129.87 355.17,129.76 C356.16,129.64 357.16,129.37 358.15,129.16 C359.15,128.96 360.14,128.69 361.14,128.53 C362.13,128.36 363.13,128.18 364.12,128.18 C365.12,128.19 366.11,128.44 367.11,128.55 C368.11,128.65 369.10,128.72 370.10,128.83 C371.09,128.94 372.09,129.14 373.08,129.20 C374.08,129.27 375.07,129.12 376.07,129.20 C377.06,129.27 378.06,129.49 379.05,129.66 C380.05,129.82 381.04,130.10 382.04,130.17 C383.04,130.24 384.03,129.96 385.03,130.06 C386.02,130.16 387.02,130.69 388.01,130.77 C389.01,130.86 390.00,130.69 391.00,130.56 C391.99,130.44 392.99,130.13 393.98,130.04 C394.98,129.96 395.97,130.09 396.97,130.05 C397.97,130.01 398.96,129.94 399.96,129.82 C400.95,129.70 401.95,129.61 402.94,129.33 C403.94,129.05 404.93,128.51 405.93,128.14 C406.92,127.78 407.92,127.45 408.91,127.14 C409.91,126.83 410.90,126.66 411.90,126.28 C412.90,125.89 413.89,125.22 414.89,124.84 C415.88,124.47 416.88,124.34 417.87,124.04 C418.87,123.75 419.86,123.28 420.86,123.06 C421.85,122.84 422.85,122.80 423.84,122.70 C424.84,122.60 425.83,122.56 426.83,122.47 C427.83,122.38 428.82,122.21 429.82,122.19 C430.81,122.16 431.81,122.24 432.80,122.30 C433.80,122.37 434.79,122.40 435.79,122.57 C436.78,122.74 437.78,123.04 438.77,123.32 C439.77,123.60 440.76,123.93 441.76,124.26 C442.76,124.60 443.75,125.01 444.75,125.31 C445.74,125.62 446.74,125.80 447.73,126.10 C448.73,126.40 449.72,126.83 450.72,127.12 C451.71,127.41 452.71,127.53 453.70,127.83 C454.70,128.14 455.69,128.60 456.69,128.94 C457.69,129.28 458.68,129.64 459.68,129.86 C460.67,130.08 461.67,130.17 462.66,130.27 C463.66,130.37 464.65,130.40 465.65,130.45 C466.64,130.51 467.64,130.54 468.63,130.58 C469.63,130.63 470.62,130.73 471.62,130.75 C472.62,130.76 473.61,130.70 474.61,130.67 C475.60,130.64 476.60,130.53 477.59,130.58 C478.59,130.62 479.58,130.71 480.58,130.92 C481.57,131.14 482.57,131.60 483.56,131.88 C484.56,132.15 485.55,132.33 486.55,132.58 C487.55,132.84 488.54,133.12 489.54,133.39 C490.53,133.66 491.53,133.87 492.52,134.19 C493.52,134.52 494.51,134.93 495.51,135.33 C496.50,135.74 497.50,136.29 498.49,136.60 C499.49,136.91 500.48,137.04 501.48,137.20 C502.48,137.37 503.47,137.35 504.47,137.60 C505.46,137.86 506.46,138.29 507.45,138.72 C508.45,139.16 509.44,139.63 510.44,140.22 C511.43,140.80 512.43,141.66 513.42,142.25 C514.42,142.84 515.41,143.19 516.41,143.78 C517.41,144.38 518.40,145.21 519.40,145.84 C520.39,146.48 521.88,147.29 522.38,147.58"/>
<path fill="none" stroke="#ba68c8" stroke-width="1.3" d="M212.00,326.50 C212.38,326.30 212.35,326.27 214.30,325.30 C216.25,324.33 220.58,322.25 223.70,320.70 C226.82,319.15 229.50,317.57 233.00,316.00 C236.50,314.43 240.82,312.85 244.70,311.30 C248.58,309.75 252.42,308.05 256.30,306.70 C260.18,305.35 264.10,304.30 268.00,303.20 C271.90,302.10 275.82,301.27 279.70,300.10 C283.58,298.93 287.42,297.43 291.30,296.20 C295.18,294.97 299.10,294.15 303.00,292.70 C306.90,291.25 310.42,289.37 314.70,287.50 C318.98,285.63 324.48,283.30 328.70,281.50 C332.92,279.70 336.32,278.68 340.00,276.70 C343.68,274.72 347.18,271.80 350.80,269.60 C354.42,267.40 358.50,265.23 361.70,263.50 C364.90,261.77 367.23,260.75 370.00,259.20 C372.77,257.65 375.52,255.87 378.30,254.20 C381.08,252.53 384.47,250.60 386.70,249.20 C388.93,247.80 389.77,247.20 391.70,245.80 C393.63,244.40 395.80,242.73 398.30,240.80 C400.80,238.87 403.92,236.28 406.70,234.20 C409.48,232.12 412.23,230.17 415.00,228.30 C417.77,226.43 420.52,224.80 423.30,223.00 C426.08,221.20 428.92,219.12 431.70,217.50 C434.48,215.88 437.23,214.60 440.00,213.30 C442.77,212.00 445.80,210.87 448.30,209.70 C450.80,208.53 452.50,207.58 455.00,206.30 C457.50,205.02 460.80,203.18 463.30,202.00 C465.80,200.82 467.83,200.15 470.00,199.20 C472.17,198.25 473.92,197.35 476.30,196.30 C478.68,195.25 481.63,193.92 484.30,192.90 C486.97,191.88 489.63,191.03 492.30,190.20 C494.97,189.37 497.63,188.62 500.30,187.90 C502.97,187.18 505.63,186.48 508.30,185.90 C510.97,185.32 513.97,184.82 516.30,184.40 C518.63,183.98 521.30,183.57 522.30,183.40"/>
</g>
<g clip-path="url(#cr)">
<rect x="4.5" y="343.4" width="554" height="61.5" fill="#7e57c2" opacity="0.1"/>
<line x1="4.5" y1="343.4" x2="558.5" y2="343.4" stroke="#787b86" stroke-width="0.8" stroke-dasharray="2.5,2.5" opacity="0.7"/>
<line x1="4.5" y1="374.1" x2="558.5" y2="374.1" stroke="#787b86" stroke-width="0.8" stroke-dasharray="2.5,2.5" opacity="0.7"/>
<line x1="4.5" y1="404.9" x2="558.5" y2="404.9" stroke="#787b86" stroke-width="0.8" stroke-dasharray="2.5,2.5" opacity="0.7"/>
<clipPath id="ob"><rect x="4.5" y="325.5" width="554" height="17.90"/></clipPath>
<polygon clip-path="url(#ob)" fill="#26a69a" opacity="0.08" points="4.9,341.8 8.8,342.0 11.8,339.0 14.8,346.6 17.7,343.9 20.7,341.9 23.7,340.3 26.7,337.5 29.7,342.3 32.7,340.7 35.7,350.9 38.6,377.4 41.6,360.9 44.6,367.9 47.6,358.7 50.6,356.5 53.6,350.3 56.6,354.1 59.6,346.3 62.5,346.0 65.5,347.5 68.5,353.9 71.5,353.4 74.5,369.8 77.5,375.5 80.5,379.2 83.4,366.0 86.4,368.8 89.4,365.2 92.4,364.0 95.4,359.1 98.4,371.8 101.4,378.4 104.3,371.4 107.3,364.4 110.3,363.6 113.3,359.5 116.3,357.9 119.3,357.7 122.3,352.5 125.2,349.8 128.2,344.2 131.2,345.7 134.2,348.5 137.2,342.0 140.2,338.0 143.2,334.9 146.1,346.3 149.1,350.2 152.1,356.0 155.1,352.8 158.1,349.5 161.1,347.0 164.1,343.7 167.0,341.3 170.0,348.0 173.0,342.3 176.0,350.9 179.0,342.7 182.0,344.9 185.0,381.2 188.0,366.0 190.9,371.0 193.9,366.6 196.9,369.5 199.9,365.1 202.9,357.4 205.9,358.1 208.9,366.3 211.8,361.0 214.8,354.9 217.8,346.0 220.8,343.0 223.8,341.4 226.8,354.9 229.8,352.5 232.7,350.3 235.7,367.4 238.7,363.3 241.7,375.5 244.7,377.3 247.7,365.0 250.7,367.2 253.6,367.4 256.6,380.0 259.6,379.6 262.6,384.2 265.6,390.4 268.6,386.0 271.6,397.0 274.5,391.6 277.5,376.2 280.5,373.0 283.5,368.8 286.5,364.8 289.5,367.1 292.5,362.9 295.4,361.7 298.4,362.4 301.4,360.2 304.4,361.8 307.4,361.0 310.4,358.4 313.4,361.7 316.3,377.5 319.3,381.0 322.3,378.9 325.3,391.2 328.3,379.8 331.3,371.3 334.3,368.1 337.2,365.3 340.2,363.6 343.2,363.6 346.2,368.0 349.2,370.0 352.2,376.8 355.2,378.8 358.2,371.9 361.1,364.4 364.1,364.1 367.1,369.5 370.1,361.6 373.1,360.9 376.1,363.1 379.1,374.0 382.0,371.5 385.0,372.0 388.0,389.4 391.0,377.8 394.0,371.7 397.0,368.9 400.0,365.4 402.9,359.2 405.9,357.3 408.9,363.0 411.9,374.7 414.9,368.8 417.9,380.8 420.9,391.4 423.8,398.1 426.8,382.5 429.8,377.5 432.8,380.6 435.8,378.8 438.8,389.5 441.8,388.5 444.7,389.1 447.7,382.9 450.7,385.3 453.7,378.8 456.7,386.2 459.7,378.3 462.7,369.2 465.6,376.7 468.6,378.6 471.6,377.6 474.6,384.6 477.6,373.8 480.6,375.4 483.6,384.9 486.6,376.0 489.5,376.3 492.5,376.3 495.5,386.7 498.5,390.2 501.5,379.4 504.5,376.3 507.5,386.1 510.4,387.7 513.4,396.4 516.4,387.8 519.4,391.6 522.4,383.1 522.4,343.4 4.9,343.4"/>
<polyline fill="none" stroke="#7e57c2" stroke-width="0.95" opacity="0.72" points="4.9,341.8 8.8,342.0 11.8,339.0 14.8,346.6 17.7,343.9 20.7,341.9 23.7,340.3 26.7,337.5 29.7,342.3 32.7,340.7 35.7,350.9 38.6,377.4 41.6,360.9 44.6,367.9 47.6,358.7 50.6,356.5 53.6,350.3 56.6,354.1 59.6,346.3 62.5,346.0 65.5,347.5 68.5,353.9 71.5,353.4 74.5,369.8 77.5,375.5 80.5,379.2 83.4,366.0 86.4,368.8 89.4,365.2 92.4,364.0 95.4,359.1 98.4,371.8 101.4,378.4 104.3,371.4 107.3,364.4 110.3,363.6 113.3,359.5 116.3,357.9 119.3,357.7 122.3,352.5 125.2,349.8 128.2,344.2 131.2,345.7 134.2,348.5 137.2,342.0 140.2,338.0 143.2,334.9 146.1,346.3 149.1,350.2 152.1,356.0 155.1,352.8 158.1,349.5 161.1,347.0 164.1,343.7 167.0,341.3 170.0,348.0 173.0,342.3 176.0,350.9 179.0,342.7 182.0,344.9 185.0,381.2 188.0,366.0 190.9,371.0 193.9,366.6 196.9,369.5 199.9,365.1 202.9,357.4 205.9,358.1 208.9,366.3 211.8,361.0 214.8,354.9 217.8,346.0 220.8,343.0 223.8,341.4 226.8,354.9 229.8,352.5 232.7,350.3 235.7,367.4 238.7,363.3 241.7,375.5 244.7,377.3 247.7,365.0 250.7,367.2 253.6,367.4 256.6,380.0 259.6,379.6 262.6,384.2 265.6,390.4 268.6,386.0 271.6,397.0 274.5,391.6 277.5,376.2 280.5,373.0 283.5,368.8 286.5,364.8 289.5,367.1 292.5,362.9 295.4,361.7 298.4,362.4 301.4,360.2 304.4,361.8 307.4,361.0 310.4,358.4 313.4,361.7 316.3,377.5 319.3,381.0 322.3,378.9 325.3,391.2 328.3,379.8 331.3,371.3 334.3,368.1 337.2,365.3 340.2,363.6 343.2,363.6 346.2,368.0 349.2,370.0 352.2,376.8 355.2,378.8 358.2,371.9 361.1,364.4 364.1,364.1 367.1,369.5 370.1,361.6 373.1,360.9 376.1,363.1 379.1,374.0 382.0,371.5 385.0,372.0 388.0,389.4 391.0,377.8 394.0,371.7 397.0,368.9 400.0,365.4 402.9,359.2 405.9,357.3 408.9,363.0 411.9,374.7 414.9,368.8 417.9,380.8 420.9,391.4 423.8,398.1 426.8,382.5 429.8,377.5 432.8,380.6 435.8,378.8 438.8,389.5 441.8,388.5 444.7,389.1 447.7,382.9 450.7,385.3 453.7,378.8 456.7,386.2 459.7,378.3 462.7,369.2 465.6,376.7 468.6,378.6 471.6,377.6 474.6,384.6 477.6,373.8 480.6,375.4 483.6,384.9 486.6,376.0 489.5,376.3 492.5,376.3 495.5,386.7 498.5,390.2 501.5,379.4 504.5,376.3 507.5,386.1 510.4,387.7 513.4,396.4 516.4,387.8 519.4,391.6 522.4,383.1"/>
<polyline fill="none" stroke="#f2c94c" stroke-width="0.95" opacity="0.75" points="4.9,345.6 8.8,345.3 11.8,344.8 14.8,344.9 17.7,344.8 20.7,344.5 23.7,344.2 26.7,343.6 29.7,343.3 32.7,343.0 35.7,343.4 38.6,345.6 41.6,346.7 44.6,348.3 47.6,349.3 50.6,350.3 53.6,351.1 56.6,351.6 59.6,351.8 62.5,352.1 65.5,352.6 68.5,353.8 71.5,354.6 74.5,356.7 77.5,358.4 80.5,358.6 83.4,358.9 86.4,359.0 89.4,359.5 92.4,360.0 95.4,360.6 98.4,361.9 101.4,364.2 104.3,366.0 107.3,367.2 110.3,367.9 113.3,368.3 116.3,367.5 119.3,366.2 122.3,364.3 125.2,363.1 128.2,361.4 131.2,360.0 134.2,358.9 137.2,357.7 140.2,355.3 143.2,352.2 146.1,350.4 149.1,349.3 152.1,348.8 155.1,348.3 158.1,347.7 161.1,347.0 164.1,346.3 167.0,345.7 170.0,346.0 173.0,345.7 176.0,345.9 179.0,346.0 182.0,346.5 185.0,349.8 188.0,351.2 190.9,352.7 193.9,353.4 196.9,354.6 199.9,355.7 202.9,356.5 205.9,357.5 208.9,359.3 211.8,360.2 214.8,361.1 217.8,360.8 220.8,360.8 223.8,360.5 226.8,358.7 229.8,357.7 232.7,356.2 235.7,356.3 238.7,355.8 241.7,356.6 244.7,358.0 247.7,358.5 250.7,358.6 253.6,359.0 256.6,360.8 259.6,363.2 262.6,366.1 265.6,369.6 268.6,371.9 271.6,375.0 274.5,378.0 277.5,378.6 280.5,379.3 283.5,378.8 286.5,377.9 289.5,378.1 292.5,377.8 295.4,377.4 298.4,376.1 301.4,374.7 304.4,373.1 307.4,371.0 310.4,369.1 313.4,366.5 316.3,365.5 319.3,365.9 322.3,366.3 325.3,367.9 328.3,369.0 331.3,369.3 334.3,369.6 337.2,369.9 340.2,370.0 343.2,370.2 346.2,370.7 349.2,371.3 352.2,372.6 355.2,373.9 358.2,373.5 361.1,372.3 364.1,371.2 367.1,369.7 370.1,368.4 373.1,367.6 376.1,367.3 379.1,367.9 382.0,368.5 385.0,369.1 388.0,370.6 391.0,371.1 394.0,370.8 397.0,370.1 400.0,369.6 402.9,369.2 405.9,368.7 408.9,368.3 411.9,369.2 414.9,369.8 417.9,371.0 420.9,372.3 423.8,374.2 426.8,374.9 429.8,374.1 432.8,374.3 435.8,374.8 438.8,376.3 441.8,377.9 444.7,380.0 447.7,381.9 450.7,383.5 453.7,383.7 456.7,385.0 459.7,384.8 462.7,383.2 465.6,381.7 468.6,381.4 471.6,381.4 474.6,381.7 477.6,381.4 480.6,380.3 483.6,380.1 486.6,379.2 489.5,378.7 492.5,378.1 495.5,378.6 498.5,378.9 501.5,379.0 504.5,379.5 507.5,380.2 510.4,380.8 513.4,382.2 516.4,382.4 519.4,383.7 522.4,384.2"/>
</g>
<g clip-path="url(#cd)">
<line x1="4.5" y1="450.7" x2="558.5" y2="450.7" stroke="#787b86" stroke-width="0.8" stroke-dasharray="2.5,2.5" opacity="0.5"/>
<rect x="4.70" y="450.56" width="2.2" height="0.50" fill="#26a69a"/>
<rect x="7.69" y="450.70" width="2.2" height="0.50" fill="#ff5252"/>
<rect x="10.68" y="450.70" width="2.2" height="0.50" fill="#ffcdd2"/>
<rect x="13.66" y="450.70" width="2.2" height="0.75" fill="#ff5252"/>
<rect x="16.65" y="450.70" width="2.2" height="1.02" fill="#ff5252"/>
<rect x="19.63" y="450.70" width="2.2" height="1.07" fill="#ff5252"/>
<rect x="22.62" y="450.70" width="2.2" height="1.05" fill="#ffcdd2"/>
<rect x="25.61" y="450.70" width="2.2" height="0.77" fill="#ffcdd2"/>
<rect x="28.59" y="450.70" width="2.2" height="1.12" fill="#ff5252"/>
<rect x="31.58" y="450.70" width="2.2" height="1.30" fill="#ff5252"/>
<rect x="34.56" y="450.70" width="2.2" height="2.24" fill="#ff5252"/>
<rect x="37.55" y="450.70" width="2.2" height="5.27" fill="#ff5252"/>
<rect x="40.54" y="450.70" width="2.2" height="5.03" fill="#ffcdd2"/>
<rect x="43.52" y="450.70" width="2.2" height="5.65" fill="#ff5252"/>
<rect x="46.51" y="450.70" width="2.2" height="4.51" fill="#ffcdd2"/>
<rect x="49.49" y="450.70" width="2.2" height="3.39" fill="#ffcdd2"/>
<rect x="52.48" y="450.70" width="2.2" height="1.55" fill="#ffcdd2"/>
<rect x="55.47" y="450.70" width="2.2" height="0.91" fill="#ffcdd2"/>
<rect x="58.45" y="449.79" width="2.2" height="0.91" fill="#26a69a"/>
<rect x="61.44" y="448.82" width="2.2" height="1.88" fill="#26a69a"/>
<rect x="64.42" y="448.65" width="2.2" height="2.05" fill="#26a69a"/>
<rect x="67.41" y="449.47" width="2.2" height="1.23" fill="#b2dfdb"/>
<rect x="70.40" y="450.17" width="2.2" height="0.53" fill="#b2dfdb"/>
<rect x="73.38" y="450.70" width="2.2" height="1.90" fill="#ff5252"/>
<rect x="76.37" y="450.70" width="2.2" height="4.24" fill="#ff5252"/>
<rect x="79.35" y="450.70" width="2.2" height="6.18" fill="#ff5252"/>
<rect x="82.34" y="450.70" width="2.2" height="5.44" fill="#ffcdd2"/>
<rect x="85.33" y="450.70" width="2.2" height="5.20" fill="#ffcdd2"/>
<rect x="88.31" y="450.70" width="2.2" height="4.41" fill="#ffcdd2"/>
<rect x="91.30" y="450.70" width="2.2" height="3.65" fill="#ffcdd2"/>
<rect x="94.28" y="450.70" width="2.2" height="2.39" fill="#ffcdd2"/>
<rect x="97.27" y="450.70" width="2.2" height="3.08" fill="#ff5252"/>
<rect x="100.26" y="450.70" width="2.2" height="4.39" fill="#ff5252"/>
<rect x="103.24" y="450.70" width="2.2" height="4.13" fill="#ffcdd2"/>
<rect x="106.23" y="450.70" width="2.2" height="2.78" fill="#ffcdd2"/>
<rect x="109.21" y="450.70" width="2.2" height="1.77" fill="#ffcdd2"/>
<rect x="112.20" y="450.70" width="2.2" height="0.50" fill="#ffcdd2"/>
<rect x="115.19" y="450.18" width="2.2" height="0.52" fill="#26a69a"/>
<rect x="118.17" y="449.64" width="2.2" height="1.06" fill="#26a69a"/>
<rect x="121.16" y="448.63" width="2.2" height="2.07" fill="#26a69a"/>
<rect x="124.14" y="447.77" width="2.2" height="2.93" fill="#26a69a"/>
<rect x="127.13" y="446.45" width="2.2" height="4.25" fill="#26a69a"/>
<rect x="130.12" y="446.08" width="2.2" height="4.62" fill="#26a69a"/>
<rect x="133.10" y="446.46" width="2.2" height="4.24" fill="#b2dfdb"/>
<rect x="136.09" y="445.87" width="2.2" height="4.83" fill="#26a69a"/>
<rect x="139.07" y="445.07" width="2.2" height="5.63" fill="#26a69a"/>
<rect x="142.06" y="444.31" width="2.2" height="6.39" fill="#26a69a"/>
<rect x="145.05" y="445.30" width="2.2" height="5.40" fill="#b2dfdb"/>
<rect x="148.03" y="446.73" width="2.2" height="3.97" fill="#b2dfdb"/>
<rect x="151.02" y="448.57" width="2.2" height="2.13" fill="#b2dfdb"/>
<rect x="154.00" y="449.54" width="2.2" height="1.16" fill="#b2dfdb"/>
<rect x="156.99" y="449.87" width="2.2" height="0.83" fill="#b2dfdb"/>
<rect x="159.98" y="449.91" width="2.2" height="0.79" fill="#b2dfdb"/>
<rect x="162.96" y="449.60" width="2.2" height="1.10" fill="#26a69a"/>
<rect x="165.95" y="449.23" width="2.2" height="1.47" fill="#26a69a"/>
<rect x="168.93" y="449.81" width="2.2" height="0.89" fill="#b2dfdb"/>
<rect x="171.92" y="449.44" width="2.2" height="1.26" fill="#26a69a"/>
<rect x="174.91" y="450.20" width="2.2" height="0.50" fill="#b2dfdb"/>
<rect x="177.89" y="449.43" width="2.2" height="1.27" fill="#26a69a"/>
<rect x="180.88" y="449.42" width="2.2" height="1.28" fill="#26a69a"/>
<rect x="183.86" y="450.70" width="2.2" height="3.47" fill="#ff5252"/>
<rect x="186.85" y="450.70" width="2.2" height="3.81" fill="#ff5252"/>
<rect x="189.84" y="450.70" width="2.2" height="4.90" fill="#ff5252"/>
<rect x="192.82" y="450.70" width="2.2" height="4.66" fill="#ffcdd2"/>
<rect x="195.81" y="450.70" width="2.2" height="4.93" fill="#ff5252"/>
<rect x="198.79" y="450.70" width="2.2" height="4.17" fill="#ffcdd2"/>
<rect x="201.78" y="450.70" width="2.2" height="2.02" fill="#ffcdd2"/>
<rect x="204.77" y="450.70" width="2.2" height="0.83" fill="#ffcdd2"/>
<rect x="207.75" y="450.70" width="2.2" height="1.40" fill="#ff5252"/>
<rect x="210.74" y="450.70" width="2.2" height="0.78" fill="#ffcdd2"/>
<rect x="213.72" y="449.85" width="2.2" height="0.85" fill="#26a69a"/>
<rect x="216.71" y="446.66" width="2.2" height="4.04" fill="#26a69a"/>
<rect x="219.70" y="444.09" width="2.2" height="6.61" fill="#26a69a"/>
<rect x="222.68" y="442.47" width="2.2" height="8.23" fill="#26a69a"/>
<rect x="225.67" y="444.03" width="2.2" height="6.67" fill="#b2dfdb"/>
<rect x="228.65" y="444.93" width="2.2" height="5.77" fill="#b2dfdb"/>
<rect x="231.64" y="445.44" width="2.2" height="5.26" fill="#b2dfdb"/>
<rect x="234.63" y="449.05" width="2.2" height="1.65" fill="#b2dfdb"/>
<rect x="237.61" y="450.70" width="2.2" height="0.50" fill="#ff5252"/>
<rect x="240.60" y="450.70" width="2.2" height="3.70" fill="#ff5252"/>
<rect x="243.58" y="450.70" width="2.2" height="6.45" fill="#ff5252"/>
<rect x="246.57" y="450.70" width="2.2" height="5.28" fill="#ffcdd2"/>
<rect x="249.56" y="450.70" width="2.2" height="4.92" fill="#ffcdd2"/>
<rect x="252.54" y="450.70" width="2.2" height="4.66" fill="#ffcdd2"/>
<rect x="255.53" y="450.70" width="2.2" height="7.10" fill="#ff5252"/>
<rect x="258.51" y="450.70" width="2.2" height="8.36" fill="#ff5252"/>
<rect x="261.50" y="450.70" width="2.2" height="9.91" fill="#ff5252"/>
<rect x="264.49" y="450.70" width="2.2" height="12.02" fill="#ff5252"/>
<rect x="267.47" y="450.70" width="2.2" height="12.06" fill="#ff5252"/>
<rect x="270.46" y="450.70" width="2.2" height="14.58" fill="#ff5252"/>
<rect x="273.44" y="450.70" width="2.2" height="14.48" fill="#ffcdd2"/>
<rect x="276.43" y="450.70" width="2.2" height="10.43" fill="#ffcdd2"/>
<rect x="279.42" y="450.70" width="2.2" height="6.55" fill="#ffcdd2"/>
<rect x="282.40" y="450.70" width="2.2" height="2.71" fill="#ffcdd2"/>
<rect x="285.39" y="449.78" width="2.2" height="0.92" fill="#26a69a"/>
<rect x="288.37" y="448.01" width="2.2" height="2.69" fill="#26a69a"/>
<rect x="291.36" y="445.94" width="2.2" height="4.76" fill="#26a69a"/>
<rect x="294.35" y="444.57" width="2.2" height="6.13" fill="#26a69a"/>
<rect x="297.33" y="444.16" width="2.2" height="6.54" fill="#26a69a"/>
<rect x="300.32" y="443.75" width="2.2" height="6.95" fill="#26a69a"/>
<rect x="303.30" y="444.14" width="2.2" height="6.56" fill="#b2dfdb"/>
<rect x="306.29" y="444.60" width="2.2" height="6.10" fill="#b2dfdb"/>
<rect x="309.28" y="444.73" width="2.2" height="5.97" fill="#b2dfdb"/>
<rect x="312.26" y="445.64" width="2.2" height="5.06" fill="#b2dfdb"/>
<rect x="315.25" y="449.01" width="2.2" height="1.69" fill="#b2dfdb"/>
<rect x="318.23" y="450.70" width="2.2" height="1.26" fill="#ff5252"/>
<rect x="321.22" y="450.70" width="2.2" height="2.79" fill="#ff5252"/>
<rect x="324.21" y="450.70" width="2.2" height="6.15" fill="#ff5252"/>
<rect x="327.19" y="450.70" width="2.2" height="6.12" fill="#ffcdd2"/>
<rect x="330.18" y="450.70" width="2.2" height="4.20" fill="#ffcdd2"/>
<rect x="333.16" y="450.70" width="2.2" height="2.17" fill="#ffcdd2"/>
<rect x="336.15" y="450.70" width="2.2" height="0.50" fill="#ffcdd2"/>
<rect x="339.14" y="449.36" width="2.2" height="1.34" fill="#26a69a"/>
<rect x="342.12" y="448.48" width="2.2" height="2.22" fill="#26a69a"/>
<rect x="345.11" y="448.75" width="2.2" height="1.95" fill="#b2dfdb"/>
<rect x="348.09" y="449.35" width="2.2" height="1.35" fill="#b2dfdb"/>
<rect x="351.08" y="450.70" width="2.2" height="0.50" fill="#ff5252"/>
<rect x="354.07" y="450.70" width="2.2" height="1.51" fill="#ff5252"/>
<rect x="357.05" y="450.70" width="2.2" height="1.29" fill="#ffcdd2"/>
<rect x="360.04" y="450.59" width="2.2" height="0.50" fill="#26a69a"/>
<rect x="363.02" y="449.69" width="2.2" height="1.01" fill="#26a69a"/>
<rect x="366.01" y="449.93" width="2.2" height="0.77" fill="#b2dfdb"/>
<rect x="369.00" y="448.88" width="2.2" height="1.82" fill="#26a69a"/>
<rect x="371.98" y="448.24" width="2.2" height="2.46" fill="#26a69a"/>
<rect x="374.97" y="448.28" width="2.2" height="2.42" fill="#b2dfdb"/>
<rect x="377.95" y="449.90" width="2.2" height="0.80" fill="#b2dfdb"/>
<rect x="380.94" y="450.66" width="2.2" height="0.50" fill="#b2dfdb"/>
<rect x="383.93" y="450.70" width="2.2" height="0.56" fill="#ff5252"/>
<rect x="386.91" y="450.70" width="2.2" height="3.63" fill="#ff5252"/>
<rect x="389.90" y="450.70" width="2.2" height="3.80" fill="#ff5252"/>
<rect x="392.88" y="450.70" width="2.2" height="2.78" fill="#ffcdd2"/>
<rect x="395.87" y="450.70" width="2.2" height="1.56" fill="#ffcdd2"/>
<rect x="398.86" y="450.70" width="2.2" height="0.50" fill="#ffcdd2"/>
<rect x="401.84" y="448.87" width="2.2" height="1.83" fill="#26a69a"/>
<rect x="404.83" y="447.41" width="2.2" height="3.29" fill="#26a69a"/>
<rect x="407.81" y="447.42" width="2.2" height="3.28" fill="#b2dfdb"/>
<rect x="410.80" y="449.31" width="2.2" height="1.39" fill="#b2dfdb"/>
<rect x="413.79" y="449.67" width="2.2" height="1.03" fill="#b2dfdb"/>
<rect x="416.77" y="450.70" width="2.2" height="1.32" fill="#ff5252"/>
<rect x="419.76" y="450.70" width="2.2" height="5.03" fill="#ff5252"/>
<rect x="422.74" y="450.70" width="2.2" height="8.91" fill="#ff5252"/>
<rect x="425.73" y="450.70" width="2.2" height="8.23" fill="#ffcdd2"/>
<rect x="428.72" y="450.70" width="2.2" height="6.37" fill="#ffcdd2"/>
<rect x="431.70" y="450.70" width="2.2" height="5.57" fill="#ffcdd2"/>
<rect x="434.69" y="450.70" width="2.2" height="4.40" fill="#ffcdd2"/>
<rect x="437.67" y="450.70" width="2.2" height="5.96" fill="#ff5252"/>
<rect x="440.66" y="450.70" width="2.2" height="6.39" fill="#ff5252"/>
<rect x="443.65" y="450.70" width="2.2" height="6.42" fill="#ff5252"/>
<rect x="446.63" y="450.70" width="2.2" height="5.01" fill="#ffcdd2"/>
<rect x="449.62" y="450.70" width="2.2" height="4.28" fill="#ffcdd2"/>
<rect x="452.60" y="450.70" width="2.2" height="2.44" fill="#ffcdd2"/>
<rect x="455.59" y="450.70" width="2.2" height="2.59" fill="#ff5252"/>
<rect x="458.58" y="450.70" width="2.2" height="1.08" fill="#ffcdd2"/>
<rect x="461.56" y="448.89" width="2.2" height="1.81" fill="#26a69a"/>
<rect x="464.55" y="448.55" width="2.2" height="2.15" fill="#26a69a"/>
<rect x="467.53" y="448.75" width="2.2" height="1.95" fill="#b2dfdb"/>
<rect x="470.52" y="448.71" width="2.2" height="1.99" fill="#26a69a"/>
<rect x="473.51" y="450.12" width="2.2" height="0.58" fill="#b2dfdb"/>
<rect x="476.49" y="448.98" width="2.2" height="1.72" fill="#26a69a"/>
<rect x="479.48" y="448.58" width="2.2" height="2.12" fill="#26a69a"/>
<rect x="482.46" y="450.37" width="2.2" height="0.50" fill="#b2dfdb"/>
<rect x="485.45" y="449.75" width="2.2" height="0.95" fill="#26a69a"/>
<rect x="488.44" y="449.40" width="2.2" height="1.30" fill="#26a69a"/>
<rect x="491.42" y="449.17" width="2.2" height="1.53" fill="#26a69a"/>
<rect x="494.41" y="450.70" width="2.2" height="0.50" fill="#ff5252"/>
<rect x="497.39" y="450.70" width="2.2" height="2.45" fill="#ff5252"/>
<rect x="500.38" y="450.70" width="2.2" height="1.65" fill="#ffcdd2"/>
<rect x="503.37" y="450.70" width="2.2" height="0.50" fill="#ffcdd2"/>
<rect x="506.35" y="450.70" width="2.2" height="1.64" fill="#ff5252"/>
<rect x="509.34" y="450.70" width="2.2" height="2.63" fill="#ff5252"/>
<rect x="512.32" y="450.70" width="2.2" height="5.34" fill="#ff5252"/>
<rect x="515.31" y="450.70" width="2.2" height="5.17" fill="#ffcdd2"/>
<rect x="518.30" y="450.70" width="2.2" height="5.68" fill="#ff5252"/>
<rect x="521.28" y="450.70" width="2.2" height="4.03" fill="#ffcdd2"/>
<polyline fill="none" stroke="#2962ff" stroke-width="0.95" opacity="0.75" points="5.8,420.7 8.8,421.0 11.8,420.9 14.8,421.8 17.7,422.3 20.7,422.7 23.7,422.9 26.7,422.8 29.7,423.5 32.7,424.0 35.7,425.5 38.6,429.8 41.6,430.8 44.6,432.9 47.6,432.8 50.6,432.6 53.6,431.1 56.6,430.7 59.6,428.7 62.5,427.2 65.5,426.5 68.5,427.0 71.5,427.6 74.5,430.5 77.5,433.9 80.5,437.4 83.4,438.0 86.4,439.1 89.4,439.4 92.4,439.5 95.4,438.9 98.4,440.4 101.4,442.8 104.3,443.5 107.3,442.9 110.3,442.3 113.3,441.1 116.3,440.0 119.3,439.2 122.3,437.7 125.2,436.1 128.2,433.7 131.2,432.2 134.2,431.5 137.2,429.7 140.2,427.5 143.2,425.1 146.1,424.8 149.1,425.2 152.1,426.5 155.1,427.2 158.1,427.3 161.1,427.2 164.1,426.6 167.0,425.8 170.0,426.2 173.0,425.5 176.0,426.1 179.0,425.1 182.0,424.7 185.0,430.3 188.0,431.6 190.9,434.0 193.9,434.9 196.9,436.4 199.9,436.7 202.9,435.0 205.9,434.0 208.9,435.0 211.8,434.5 214.8,432.7 217.8,428.5 220.8,424.3 223.8,420.6 226.8,420.5 229.8,419.9 232.7,419.1 235.7,422.3 238.7,424.0 241.7,428.6 244.7,433.0 247.7,433.1 250.7,434.0 253.6,434.9 256.6,439.1 259.6,442.5 262.6,446.5 265.6,451.6 268.6,454.7 271.6,460.8 274.5,464.3 277.5,462.9 280.5,460.7 283.5,457.5 286.5,453.6 289.5,451.2 292.5,447.9 295.4,445.0 298.4,443.0 301.4,440.8 304.4,439.6 307.4,438.5 310.4,437.2 313.4,436.8 316.3,439.8 319.3,443.0 322.3,445.2 325.3,450.1 328.3,451.6 331.3,450.8 334.3,449.3 337.2,447.4 340.2,445.5 343.2,444.1 346.2,443.8 349.2,444.1 352.2,445.7 355.2,447.4 358.2,447.5 361.1,446.1 364.1,444.9 367.1,445.0 370.1,443.5 373.1,442.2 376.1,441.6 379.1,443.1 382.0,443.8 385.0,444.5 388.0,448.5 391.0,449.6 394.0,449.3 397.0,448.5 400.0,447.1 402.9,444.7 405.9,442.4 408.9,441.6 411.9,443.1 414.9,443.2 417.9,445.9 420.9,450.9 423.8,457.0 426.8,458.4 429.8,458.1 432.8,458.7 435.8,458.6 438.8,461.7 441.8,463.7 444.7,465.3 447.7,465.2 450.7,465.5 453.7,464.3 456.7,465.1 459.7,463.8 462.7,460.5 465.6,459.6 468.6,459.3 471.6,458.8 474.6,460.1 477.6,458.5 480.6,457.6 483.6,459.3 486.6,458.4 489.5,457.7 492.5,457.1 495.5,459.2 498.5,461.8 501.5,461.4 504.5,460.3 507.5,461.9 510.4,463.6 513.4,467.6 516.4,468.8 519.4,470.7 522.4,470.0"/>
<polyline fill="none" stroke="#ff6d00" stroke-width="0.95" opacity="0.7" points="5.8,420.9 8.8,420.9 11.8,420.9 14.8,421.1 17.7,421.3 20.7,421.6 23.7,421.9 26.7,422.1 29.7,422.3 32.7,422.7 35.7,423.2 38.6,424.5 41.6,425.8 44.6,427.2 47.6,428.3 50.6,429.2 53.6,429.6 56.6,429.8 59.6,429.6 62.5,429.1 65.5,428.6 68.5,428.3 71.5,428.1 74.5,428.6 77.5,429.7 80.5,431.2 83.4,432.6 86.4,433.9 89.4,435.0 92.4,435.9 95.4,436.5 98.4,437.3 101.4,438.4 104.3,439.4 107.3,440.1 110.3,440.5 113.3,440.7 116.3,440.5 119.3,440.3 122.3,439.7 125.2,439.0 128.2,437.9 131.2,436.8 134.2,435.7 137.2,434.5 140.2,433.1 143.2,431.5 146.1,430.2 149.1,429.2 152.1,428.7 155.1,428.4 158.1,428.2 161.1,428.0 164.1,427.7 167.0,427.3 170.0,427.1 173.0,426.8 176.0,426.6 179.0,426.3 182.0,426.0 185.0,426.9 188.0,427.8 190.9,429.1 193.9,430.2 196.9,431.4 199.9,432.5 202.9,433.0 205.9,433.2 208.9,433.6 211.8,433.7 214.8,433.5 217.8,432.5 220.8,430.9 223.8,428.8 226.8,427.1 229.8,425.7 232.7,424.4 235.7,424.0 238.7,424.0 241.7,424.9 244.7,426.5 247.7,427.8 250.7,429.1 253.6,430.2 256.6,432.0 259.6,434.1 262.6,436.6 265.6,439.6 268.6,442.6 271.6,446.2 274.5,449.9 277.5,452.5 280.5,454.1 283.5,454.8 286.5,454.6 289.5,453.9 292.5,452.7 295.4,451.2 298.4,449.5 301.4,447.8 304.4,446.1 307.4,444.6 310.4,443.1 313.4,441.9 316.3,441.4 319.3,441.8 322.3,442.5 325.3,444.0 328.3,445.5 331.3,446.6 334.3,447.1 337.2,447.2 340.2,446.8 343.2,446.3 346.2,445.8 349.2,445.5 352.2,445.5 355.2,445.9 358.2,446.2 361.1,446.2 364.1,445.9 367.1,445.7 370.1,445.3 373.1,444.7 376.1,444.1 379.1,443.9 382.0,443.8 385.0,444.0 388.0,444.9 391.0,445.8 394.0,446.5 397.0,446.9 400.0,447.0 402.9,446.5 405.9,445.7 408.9,444.9 411.9,444.5 414.9,444.3 417.9,444.6 420.9,445.8 423.8,448.1 426.8,450.1 429.8,451.7 432.8,453.1 435.8,454.2 438.8,455.7 441.8,457.3 444.7,458.9 447.7,460.2 450.7,461.2 453.7,461.8 456.7,462.5 459.7,462.8 462.7,462.3 465.6,461.8 468.6,461.3 471.6,460.8 474.6,460.6 477.6,460.2 480.6,459.7 483.6,459.6 486.6,459.4 489.5,459.0 492.5,458.6 495.5,458.8 498.5,459.4 501.5,459.8 504.5,459.9 507.5,460.3 510.4,461.0 513.4,462.3 516.4,463.6 519.4,465.0 522.4,466.0"/>
</g>
<rect x="4.5" y="12.5" width="591" height="477" fill="none" stroke="#eceef3" stroke-width="1"/>
<line x1="4.5" y1="325.3" x2="595.5" y2="325.3" stroke="#eceef3" stroke-width="1"/>
<line x1="4.5" y1="412.1" x2="595.5" y2="412.1" stroke="#eceef3" stroke-width="1"/>
<line x1="4.5" y1="477" x2="595.5" y2="477" stroke="#c3c5cc" stroke-width="1.2"/>
<line x1="558.7" y1="12.5" x2="558.7" y2="489.5" stroke="#b2b5be" stroke-width="1.2"/>
<rect x="560.5" y="14.5" width="33" height="11.5" rx="2" fill="#fff" stroke="#f0f3fa" stroke-width="1"/>
<text x="564.5" y="22.3" font-family="'Liberation Sans', sans-serif" font-size="6.0" fill="#131722" font-weight="normal" text-anchor="start" textLength="11.3" lengthAdjust="spacingAndGlyphs" stroke="#131722" stroke-width="0.3">USD</text>
<text x="562.9" y="324.25" font-family="'Liberation Sans', sans-serif" font-size="6.3" fill="#787b86" font-weight="normal" text-anchor="start" textLength="27.2" lengthAdjust="spacingAndGlyphs" stroke="#787b86" stroke-width="0.1">22,000.00</text>
<text x="562.9" y="309.775" font-family="'Liberation Sans', sans-serif" font-size="6.3" fill="#787b86" font-weight="normal" text-anchor="start" textLength="27.2" lengthAdjust="spacingAndGlyphs" stroke="#787b86" stroke-width="0.1">22,250.00</text>
<text x="562.9" y="295.3" font-family="'Liberation Sans', sans-serif" font-size="6.3" fill="#787b86" font-weight="normal" text-anchor="start" textLength="27.2" lengthAdjust="spacingAndGlyphs" stroke="#787b86" stroke-width="0.1">22,500.00</text>
<text x="562.9" y="280.825" font-family="'Liberation Sans', sans-serif" font-size="6.3" fill="#787b86" font-weight="normal" text-anchor="start" textLength="27.2" lengthAdjust="spacingAndGlyphs" stroke="#787b86" stroke-width="0.1">22,750.00</text>
<text x="562.9" y="266.35" font-family="'Liberation Sans', sans-serif" font-size="6.3" fill="#787b86" font-weight="normal" text-anchor="start" textLength="27.2" lengthAdjust="spacingAndGlyphs" stroke="#787b86" stroke-width="0.1">23,000.00</text>
<text x="562.9" y="251.875" font-family="'Liberation Sans', sans-serif" font-size="6.3" fill="#787b86" font-weight="normal" text-anchor="start" textLength="27.2" lengthAdjust="spacingAndGlyphs" stroke="#787b86" stroke-width="0.1">23,250.00</text>
<text x="562.9" y="237.4" font-family="'Liberation Sans', sans-serif" font-size="6.3" fill="#787b86" font-weight="normal" text-anchor="start" textLength="27.2" lengthAdjust="spacingAndGlyphs" stroke="#787b86" stroke-width="0.1">23,500.00</text>
<text x="562.9" y="222.925" font-family="'Liberation Sans', sans-serif" font-size="6.3" fill="#787b86" font-weight="normal" text-anchor="start" textLength="27.2" lengthAdjust="spacingAndGlyphs" stroke="#787b86" stroke-width="0.1">23,750.00</text>
<text x="562.9" y="208.45" font-family="'Liberation Sans', sans-serif" font-size="6.3" fill="#787b86" font-weight="normal" text-anchor="start" textLength="27.2" lengthAdjust="spacingAndGlyphs" stroke="#787b86" stroke-width="0.1">24,000.00</text>
<text x="562.9" y="193.975" font-family="'Liberation Sans', sans-serif" font-size="6.3" fill="#787b86" font-weight="normal" text-anchor="start" textLength="27.2" lengthAdjust="spacingAndGlyphs" stroke="#787b86" stroke-width="0.1">24,250.00</text>
<text x="562.9" y="179.5" font-family="'Liberation Sans', sans-serif" font-size="6.3" fill="#787b86" font-weight="normal" text-anchor="start" textLength="27.2" lengthAdjust="spacingAndGlyphs" stroke="#787b86" stroke-width="0.1">24,500.00</text>
<text x="562.9" y="165.025" font-family="'Liberation Sans', sans-serif" font-size="6.3" fill="#787b86" font-weight="normal" text-anchor="start" textLength="27.2" lengthAdjust="spacingAndGlyphs" stroke="#787b86" stroke-width="0.1">24,750.00</text>
<text x="562.9" y="150.55" font-family="'Liberation Sans', sans-serif" font-size="6.3" fill="#787b86" font-weight="normal" text-anchor="start" textLength="27.2" lengthAdjust="spacingAndGlyphs" stroke="#787b86" stroke-width="0.1">25,000.00</text>
<text x="562.9" y="136.075" font-family="'Liberation Sans', sans-serif" font-size="6.3" fill="#787b86" font-weight="normal" text-anchor="start" textLength="27.2" lengthAdjust="spacingAndGlyphs" stroke="#787b86" stroke-width="0.1">25,250.00</text>
<text x="562.9" y="121.6" font-family="'Liberation Sans', sans-serif" font-size="6.3" fill="#787b86" font-weight="normal" text-anchor="start" textLength="27.2" lengthAdjust="spacingAndGlyphs" stroke="#787b86" stroke-width="0.1">25,500.00</text>
<text x="562.9" y="107.125" font-family="'Liberation Sans', sans-serif" font-size="6.3" fill="#787b86" font-weight="normal" text-anchor="start" textLength="27.2" lengthAdjust="spacingAndGlyphs" stroke="#787b86" stroke-width="0.1">25,750.00</text>
<text x="562.9" y="92.65" font-family="'Liberation Sans', sans-serif" font-size="6.3" fill="#787b86" font-weight="normal" text-anchor="start" textLength="27.2" lengthAdjust="spacingAndGlyphs" stroke="#787b86" stroke-width="0.1">26,000.00</text>
<text x="562.9" y="78.175" font-family="'Liberation Sans', sans-serif" font-size="6.3" fill="#787b86" font-weight="normal" text-anchor="start" textLength="27.2" lengthAdjust="spacingAndGlyphs" stroke="#787b86" stroke-width="0.1">26,250.00</text>
<text x="562.9" y="63.7" font-family="'Liberation Sans', sans-serif" font-size="6.3" fill="#787b86" font-weight="normal" text-anchor="start" textLength="27.2" lengthAdjust="spacingAndGlyphs" stroke="#787b86" stroke-width="0.1">26,500.00</text>
<text x="562.9" y="49.225" font-family="'Liberation Sans', sans-serif" font-size="6.3" fill="#787b86" font-weight="normal" text-anchor="start" textLength="27.2" lengthAdjust="spacingAndGlyphs" stroke="#787b86" stroke-width="0.1">26,750.00</text>
<text x="562.9" y="34.75" font-family="'Liberation Sans', sans-serif" font-size="6.3" fill="#787b86" font-weight="normal" text-anchor="start" textLength="27.2" lengthAdjust="spacingAndGlyphs" stroke="#787b86" stroke-width="0.1">27,000.00</text>
<text x="563" y="330.525" font-family="'Liberation Sans', sans-serif" font-size="6.3" fill="#787b86" font-weight="normal" text-anchor="start" textLength="14.9" lengthAdjust="spacingAndGlyphs" stroke="#787b86" stroke-width="0.1">80.00</text>
<text x="563" y="345.9" font-family="'Liberation Sans', sans-serif" font-size="6.3" fill="#787b86" font-weight="normal" text-anchor="start" textLength="14.9" lengthAdjust="spacingAndGlyphs" stroke="#787b86" stroke-width="0.1">70.00</text>
<text x="563" y="361.275" font-family="'Liberation Sans', sans-serif" font-size="6.3" fill="#787b86" font-weight="normal" text-anchor="start" textLength="14.9" lengthAdjust="spacingAndGlyphs" stroke="#787b86" stroke-width="0.1">60.00</text>
<text x="563" y="376.65" font-family="'Liberation Sans', sans-serif" font-size="6.3" fill="#787b86" font-weight="normal" text-anchor="start" textLength="14.9" lengthAdjust="spacingAndGlyphs" stroke="#787b86" stroke-width="0.1">50.00</text>
<text x="563" y="392.025" font-family="'Liberation Sans', sans-serif" font-size="6.3" fill="#787b86" font-weight="normal" text-anchor="start" textLength="14.9" lengthAdjust="spacingAndGlyphs" stroke="#787b86" stroke-width="0.1">40.00</text>
<text x="563" y="407.4" font-family="'Liberation Sans', sans-serif" font-size="6.3" fill="#787b86" font-weight="normal" text-anchor="start" textLength="14.9" lengthAdjust="spacingAndGlyphs" stroke="#787b86" stroke-width="0.1">30.00</text>
<text x="562.6" y="421.29999999999995" font-family="'Liberation Sans', sans-serif" font-size="6.3" fill="#787b86" font-weight="normal" text-anchor="start" textLength="19.3" lengthAdjust="spacingAndGlyphs" stroke="#787b86" stroke-width="0.1">400.00</text>
<text x="562.6" y="437.2" font-family="'Liberation Sans', sans-serif" font-size="6.3" fill="#787b86" font-weight="normal" text-anchor="start" textLength="19.3" lengthAdjust="spacingAndGlyphs" stroke="#787b86" stroke-width="0.1">200.00</text>
<text x="562.6" y="453.09999999999997" font-family="'Liberation Sans', sans-serif" font-size="6.3" fill="#787b86" font-weight="normal" text-anchor="start" textLength="11.5" lengthAdjust="spacingAndGlyphs" stroke="#787b86" stroke-width="0.1">0.00</text>
<text x="562.6" y="468.99999999999994" font-family="'Liberation Sans', sans-serif" font-size="6.3" fill="#787b86" font-weight="normal" text-anchor="start" textLength="22.6" lengthAdjust="spacingAndGlyphs" stroke="#787b86" stroke-width="0.1">−200.00</text>
<rect x="559.1" y="76.6" width="33.8" height="7.6" rx="0.8" fill="#f23645"/>
<text x="562.9" y="82.15" font-family="'Liberation Sans', sans-serif" font-size="6.3" fill="#fff" font-weight="normal" text-anchor="start" textLength="27.2" lengthAdjust="spacingAndGlyphs" stroke="#fff" stroke-width="0.08">26,181.76</text>
<rect x="559.1" y="133.5" width="33.8" height="7.6" rx="0.8" fill="#f23645"/>
<text x="562.9" y="139.05" font-family="'Liberation Sans', sans-serif" font-size="6.3" fill="#fff" font-weight="normal" text-anchor="start" textLength="27.2" lengthAdjust="spacingAndGlyphs" stroke="#fff" stroke-width="0.08">25,199.20</text>
<rect x="559.1" y="177.9" width="33.8" height="7.6" rx="0.8" fill="#f23645"/>
<text x="562.9" y="183.5" font-family="'Liberation Sans', sans-serif" font-size="6.3" fill="#fff" font-weight="normal" text-anchor="start" textLength="27.2" lengthAdjust="spacingAndGlyphs" stroke="#fff" stroke-width="0.08">24,383.09</text>
<rect x="559.1" y="185.7" width="33.8" height="7.6" rx="0.8" fill="#089981"/>
<text x="562.9" y="191.25" font-family="'Liberation Sans', sans-serif" font-size="6.3" fill="#fff" font-weight="normal" text-anchor="start" textLength="27.2" lengthAdjust="spacingAndGlyphs" stroke="#fff" stroke-width="0.08">24,296.61</text>
<rect x="559.1" y="203.3" width="33.8" height="7.6" rx="0.8" fill="#1e53e5"/>
<text x="562.9" y="208.9" font-family="'Liberation Sans', sans-serif" font-size="6.3" fill="#fff" font-weight="normal" text-anchor="start" textLength="27.2" lengthAdjust="spacingAndGlyphs" stroke="#fff" stroke-width="0.08">23,988.98</text>
<text x="33.3" y="485.3" font-family="'Liberation Sans', sans-serif" font-size="6.2" fill="#787b86" font-weight="normal" text-anchor="start" textLength="10.7" lengthAdjust="spacingAndGlyphs" stroke="#787b86" stroke-width="0.08">Aug</text>
<text x="96.5" y="485.3" font-family="'Liberation Sans', sans-serif" font-size="6.2" fill="#787b86" font-weight="normal" text-anchor="start" textLength="9.5" lengthAdjust="spacingAndGlyphs" stroke="#787b86" stroke-width="0.08">Sep</text>
<text x="159" y="485.3" font-family="'Liberation Sans', sans-serif" font-size="6.2" fill="#787b86" font-weight="normal" text-anchor="start" textLength="9.5" lengthAdjust="spacingAndGlyphs" stroke="#787b86" stroke-width="0.08">Oct</text>
<text x="227.7" y="485.3" font-family="'Liberation Sans', sans-serif" font-size="6.2" fill="#787b86" font-weight="normal" text-anchor="start" textLength="10.0" lengthAdjust="spacingAndGlyphs" stroke="#787b86" stroke-width="0.08">Nov</text>
<text x="284" y="485.3" font-family="'Liberation Sans', sans-serif" font-size="6.2" fill="#787b86" font-weight="normal" text-anchor="start" textLength="10" lengthAdjust="spacingAndGlyphs" stroke="#787b86" stroke-width="0.08">Dec</text>
<text x="348" y="485.3" font-family="'Liberation Sans', sans-serif" font-size="6.2" fill="#434651" font-weight="bold" text-anchor="start" textLength="14.3" lengthAdjust="spacingAndGlyphs">2026</text>
<text x="410" y="485.3" font-family="'Liberation Sans', sans-serif" font-size="6.2" fill="#787b86" font-weight="normal" text-anchor="start" textLength="10" lengthAdjust="spacingAndGlyphs" stroke="#787b86" stroke-width="0.08">Feb</text>
<text x="466" y="485.3" font-family="'Liberation Sans', sans-serif" font-size="6.2" fill="#787b86" font-weight="normal" text-anchor="start" textLength="10.7" lengthAdjust="spacingAndGlyphs" stroke="#787b86" stroke-width="0.08">Mar</text>
<text x="532" y="485.3" font-family="'Liberation Sans', sans-serif" font-size="6.2" fill="#787b86" font-weight="normal" text-anchor="start" textLength="10" lengthAdjust="spacingAndGlyphs" stroke="#787b86" stroke-width="0.08">Apr</text>
<text x="8" y="21.5" font-family="'Liberation Sans', sans-serif" font-size="6.4" fill="#6b6e79" font-weight="normal" text-anchor="start" textLength="85.7" lengthAdjust="spacingAndGlyphs" stroke="#6b6e79" stroke-width="0.18">Nasdaq 100 Index · 1D · NASDAQ</text>
<text x="8" y="29.5" font-family="'Liberation Sans', sans-serif" font-size="6.4" fill="#6b6e79" font-weight="normal" text-anchor="start" textLength="12" lengthAdjust="spacingAndGlyphs" stroke="#6b6e79" stroke-width="0.18">EMA</text>
<text x="23.3" y="29.5" font-family="'Liberation Sans', sans-serif" font-size="6.4" fill="#2962ff" font-weight="normal" text-anchor="start" textLength="25.4" lengthAdjust="spacingAndGlyphs" stroke="#2962ff" stroke-width="0.18">24,555.31</text>
<text x="8" y="37" font-family="'Liberation Sans', sans-serif" font-size="6.4" fill="#6b6e79" font-weight="normal" text-anchor="start" textLength="12" lengthAdjust="spacingAndGlyphs" stroke="#6b6e79" stroke-width="0.18">SMA</text>
<text x="23.3" y="37" font-family="'Liberation Sans', sans-serif" font-size="6.4" fill="#089981" font-weight="normal" text-anchor="start" textLength="25.4" lengthAdjust="spacingAndGlyphs" stroke="#089981" stroke-width="0.18">25,014.79</text>
<text x="8" y="44.5" font-family="'Liberation Sans', sans-serif" font-size="6.4" fill="#6b6e79" font-weight="normal" text-anchor="start" textLength="12" lengthAdjust="spacingAndGlyphs" stroke="#6b6e79" stroke-width="0.18">SMA</text>
<text x="23.3" y="44.5" font-family="'Liberation Sans', sans-serif" font-size="6.4" fill="#b44fc8" font-weight="normal" text-anchor="start" textLength="25.4" lengthAdjust="spacingAndGlyphs" stroke="#b44fc8" stroke-width="0.18">24,396.44</text>
<text x="8.3" y="335" font-family="'Liberation Sans', sans-serif" font-size="6.4" fill="#6b6e79" font-weight="normal" text-anchor="start" textLength="8.4" lengthAdjust="spacingAndGlyphs" stroke="#6b6e79" stroke-width="0.18">RSI</text>
<text x="20" y="335" font-family="'Liberation Sans', sans-serif" font-size="6.4" fill="#7e57c2" font-weight="normal" text-anchor="start" textLength="15" lengthAdjust="spacingAndGlyphs" stroke="#7e57c2" stroke-width="0.18">44.06</text>
<text x="38.7" y="335" font-family="'Liberation Sans', sans-serif" font-size="6.4" fill="#f7c948" font-weight="normal" text-anchor="start" textLength="14.3" lengthAdjust="spacingAndGlyphs" stroke="#f7c948" stroke-width="0.18">43.19</text>
<text x="8.3" y="421.7" font-family="'Liberation Sans', sans-serif" font-size="6.4" fill="#6b6e79" font-weight="normal" text-anchor="start" textLength="15.9" lengthAdjust="spacingAndGlyphs" stroke="#6b6e79" stroke-width="0.18">MACD</text>
<text x="28" y="421.7" font-family="'Liberation Sans', sans-serif" font-size="6.4" fill="#f9b4bb" font-weight="normal" text-anchor="start" textLength="17.3" lengthAdjust="spacingAndGlyphs" stroke="#f9b4bb" stroke-width="0.18">−47.94</text>
<text x="49.2" y="421.7" font-family="'Liberation Sans', sans-serif" font-size="6.4" fill="#2962ff" font-weight="normal" text-anchor="start" textLength="20.8" lengthAdjust="spacingAndGlyphs" stroke="#2962ff" stroke-width="0.18">−243.57</text>
<text x="74.2" y="421.7" font-family="'Liberation Sans', sans-serif" font-size="6.4" fill="#ff6d00" font-weight="normal" text-anchor="start" textLength="20.5" lengthAdjust="spacingAndGlyphs" stroke="#ff6d00" stroke-width="0.18">−195.63</text>
<text x="4.8" y="9.2" font-family="'Liberation Sans', sans-serif" font-size="6.2" fill="#131722" font-weight="normal" text-anchor="start" textLength="197.6" lengthAdjust="spacingAndGlyphs" stroke="#131722" stroke-width="0.03">US_Markets_charts created with TradingView.com, Mar 25, 2026 15:06 UTC</text>
<g fill="#131722"><path d="M5.4 499.4H10.6V506.4H8V502.1H5.4Z"/><circle cx="13.2" cy="500.8" r="1.25"/><path d="M15.7 499.4H18.9L16.5 506.4H13.2Z"/></g>
<text x="22.6" y="506.8" font-family="'Liberation Sans', sans-serif" font-size="10.2" fill="#131722" stroke="#131722" stroke-width="0.45" textLength="54.4" lengthAdjust="spacingAndGlyphs">TradingView</text>
</svg></body></html>
